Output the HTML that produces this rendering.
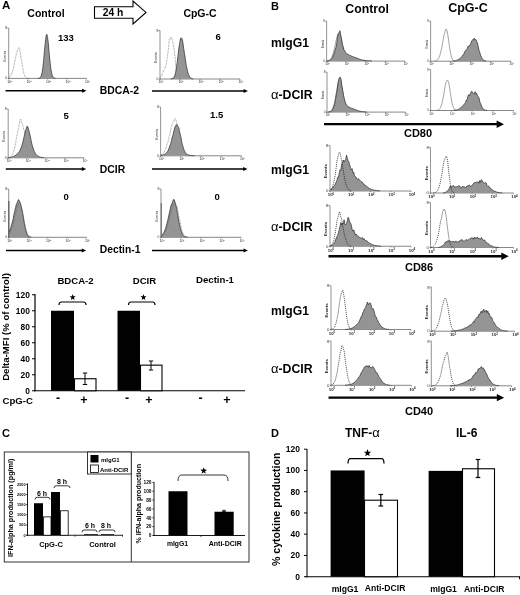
<!DOCTYPE html>
<html><head><meta charset="utf-8"><title>Figure</title>
<style>
html,body{margin:0;padding:0;background:#fff;}
body{width:520px;height:595px;overflow:hidden;font-family:"Liberation Sans",sans-serif;}
svg{display:block;font-family:"Liberation Sans",sans-serif;}
</style></head><body>
<svg width="520" height="595" viewBox="0 0 520 595">
<rect width="520" height="595" fill="#fff"/>
<g opacity="0.999">
<text x="2" y="9.4" font-size="11.5" font-weight="bold" text-anchor="start" fill="#000" >A</text>
<text x="46" y="16.5" font-size="10.5" font-weight="bold" text-anchor="middle" fill="#000" >Control</text>
<text x="200" y="16.5" font-size="10.5" font-weight="bold" text-anchor="middle" fill="#000" >CpG-C</text>
<path d="M94.5,6.7 L133,6.7 L133,1 L146,12.4 L133,24 L133,18.2 L94.5,18.2 Z" fill="#fff" stroke="#000" stroke-width="1.1"/>
<text x="113" y="16.2" font-size="10.3" font-weight="bold" text-anchor="middle" fill="#000" >24 h</text>
<line x1="8.7" y1="28" x2="8.7" y2="78.9" stroke="#666" stroke-width="0.7" />
<line x1="7.699999999999999" y1="78.4" x2="86.5" y2="78.4" stroke="#555" stroke-width="0.7" />
<line x1="8.7" y1="78.4" x2="8.7" y2="79.60000000000001" stroke="#555" stroke-width="0.6" />
<text x="9.7" y="82.828" font-size="3.4" font-weight="normal" text-anchor="middle" fill="#222" >10<tspan dy="-1.1" font-size="2.2">0</tspan></text>
<line x1="28.15" y1="78.4" x2="28.15" y2="79.60000000000001" stroke="#555" stroke-width="0.6" />
<text x="29.15" y="82.828" font-size="3.4" font-weight="normal" text-anchor="middle" fill="#222" >10<tspan dy="-1.1" font-size="2.2">1</tspan></text>
<line x1="47.599999999999994" y1="78.4" x2="47.599999999999994" y2="79.60000000000001" stroke="#555" stroke-width="0.6" />
<text x="48.599999999999994" y="82.828" font-size="3.4" font-weight="normal" text-anchor="middle" fill="#222" >10<tspan dy="-1.1" font-size="2.2">2</tspan></text>
<line x1="67.05" y1="78.4" x2="67.05" y2="79.60000000000001" stroke="#555" stroke-width="0.6" />
<text x="68.05" y="82.828" font-size="3.4" font-weight="normal" text-anchor="middle" fill="#222" >10<tspan dy="-1.1" font-size="2.2">3</tspan></text>
<line x1="86.5" y1="78.4" x2="86.5" y2="79.60000000000001" stroke="#555" stroke-width="0.6" />
<text x="87.5" y="82.828" font-size="3.4" font-weight="normal" text-anchor="middle" fill="#222" >10<tspan dy="-1.1" font-size="2.2">4</tspan></text>
<line x1="7.199999999999999" y1="28" x2="8.7" y2="28" stroke="#555" stroke-width="0.6" />
<text x="7.1" y="29.36" font-size="3.4" font-weight="normal" text-anchor="end" fill="#333" >8</text>
<text x="7.1" y="79.42" font-size="3.4" font-weight="normal" text-anchor="end" fill="#333" >0</text>
<text transform="translate(5.939999999999999,56.2) rotate(-90)" font-size="3.6" font-weight="normal" text-anchor="middle" fill="#222">Events</text>
<path d="M9.2,77.5 L10.0,76.8 L10.8,75.6 L11.6,74.2 L12.4,71.7 L13.2,68.9 L14.0,65.8 L14.8,61.1 L15.6,58.0 L16.4,53.3 L17.2,51.2 L18.0,49.2 L18.8,47.7 L19.6,48.1 L20.4,53.9 L21.2,58.8 L22.0,63.5 L22.8,68.2 L23.6,72.4 L24.4,75.1 L25.2,76.6 L26.0,77.6 L26.8,78.1 L27.6,78.3 L28.4,78.4" fill="none" stroke="#555" stroke-width="0.6" stroke-dasharray="0.8,0.7" stroke-linejoin="round"/>
<path d="M38.0,78.4 L38.0,78.4 L38.8,78.3 L39.6,78.0 L40.4,77.4 L41.2,75.9 L42.0,73.0 L42.8,68.1 L43.6,60.8 L44.4,51.4 L45.2,43.3 L46.0,36.3 L46.8,34.2 L47.6,37.6 L48.4,44.1 L49.2,53.3 L50.0,61.6 L50.8,68.3 L51.6,72.9 L52.4,75.8 L53.2,77.3 L54.0,78.0 L54.8,78.3 L55.6,78.4 L55.6,78.4 Z" fill="#949494"/>
<path d="M38.0,78.4 L38.8,78.3 L39.6,78.0 L40.4,77.4 L41.2,75.9 L42.0,73.0 L42.8,68.1 L43.6,60.8 L44.4,51.4 L45.2,43.3 L46.0,36.3 L46.8,34.2 L47.6,37.6 L48.4,44.1 L49.2,53.3 L50.0,61.6 L50.8,68.3 L51.6,72.9 L52.4,75.8 L53.2,77.3 L54.0,78.0 L54.8,78.3 L55.6,78.4" fill="none" stroke="#2a2a2a" stroke-width="0.7"  stroke-linejoin="round"/>
<text x="58" y="40.5" font-size="9.5" font-weight="bold" text-anchor="start" fill="#000" >133</text>
<line x1="160" y1="30.5" x2="160" y2="79.5" stroke="#666" stroke-width="0.7" />
<line x1="159" y1="79" x2="240" y2="79" stroke="#555" stroke-width="0.7" />
<line x1="160.0" y1="79" x2="160.0" y2="80.2" stroke="#555" stroke-width="0.6" />
<text x="161.0" y="83.428" font-size="3.4" font-weight="normal" text-anchor="middle" fill="#222" >10<tspan dy="-1.1" font-size="2.2">0</tspan></text>
<line x1="180.0" y1="79" x2="180.0" y2="80.2" stroke="#555" stroke-width="0.6" />
<text x="181.0" y="83.428" font-size="3.4" font-weight="normal" text-anchor="middle" fill="#222" >10<tspan dy="-1.1" font-size="2.2">1</tspan></text>
<line x1="200.0" y1="79" x2="200.0" y2="80.2" stroke="#555" stroke-width="0.6" />
<text x="201.0" y="83.428" font-size="3.4" font-weight="normal" text-anchor="middle" fill="#222" >10<tspan dy="-1.1" font-size="2.2">2</tspan></text>
<line x1="220.0" y1="79" x2="220.0" y2="80.2" stroke="#555" stroke-width="0.6" />
<text x="221.0" y="83.428" font-size="3.4" font-weight="normal" text-anchor="middle" fill="#222" >10<tspan dy="-1.1" font-size="2.2">3</tspan></text>
<line x1="240.0" y1="79" x2="240.0" y2="80.2" stroke="#555" stroke-width="0.6" />
<text x="241.0" y="83.428" font-size="3.4" font-weight="normal" text-anchor="middle" fill="#222" >10<tspan dy="-1.1" font-size="2.2">4</tspan></text>
<line x1="158.5" y1="30.5" x2="160" y2="30.5" stroke="#555" stroke-width="0.6" />
<text x="158.4" y="31.86" font-size="3.4" font-weight="normal" text-anchor="end" fill="#333" >8</text>
<text x="158.4" y="80.02" font-size="3.4" font-weight="normal" text-anchor="end" fill="#333" >0</text>
<text transform="translate(157.23999999999998,57.75) rotate(-90)" font-size="3.6" font-weight="normal" text-anchor="middle" fill="#222">Events</text>
<path d="M160.5,77.4 L161.3,76.3 L162.1,74.7 L162.9,72.5 L163.7,70.6 L164.5,69.2 L165.3,66.9 L166.1,64.6 L166.9,60.2 L167.7,54.4 L168.5,48.4 L169.3,39.1 L170.1,38.7 L170.9,37.1 L171.7,37.7 L172.5,42.1 L173.3,43.1 L174.1,49.3 L174.9,55.6 L175.7,65.0 L176.5,72.7 L177.3,76.7 L178.1,78.4 L178.9,78.9 L179.7,79.0" fill="none" stroke="#555" stroke-width="0.6" stroke-dasharray="0.8,0.7" stroke-linejoin="round"/>
<path d="M170.9,79.0 L170.9,78.9 L171.7,78.8 L172.5,78.6 L173.3,78.1 L174.1,77.0 L174.9,75.2 L175.7,72.2 L176.5,67.5 L177.3,61.4 L178.1,55.1 L178.9,47.7 L179.7,43.2 L180.5,38.2 L181.3,37.8 L182.1,38.7 L182.9,42.6 L183.7,48.5 L184.5,53.6 L185.3,58.7 L186.1,64.4 L186.9,68.3 L187.7,71.9 L188.5,74.4 L189.3,76.2 L190.1,77.3 L190.9,78.1 L191.7,78.5 L192.5,78.8 L193.3,78.9 L193.3,79.0 Z" fill="#949494"/>
<path d="M170.9,78.9 L171.7,78.8 L172.5,78.6 L173.3,78.1 L174.1,77.0 L174.9,75.2 L175.7,72.2 L176.5,67.5 L177.3,61.4 L178.1,55.1 L178.9,47.7 L179.7,43.2 L180.5,38.2 L181.3,37.8 L182.1,38.7 L182.9,42.6 L183.7,48.5 L184.5,53.6 L185.3,58.7 L186.1,64.4 L186.9,68.3 L187.7,71.9 L188.5,74.4 L189.3,76.2 L190.1,77.3 L190.9,78.1 L191.7,78.5 L192.5,78.8 L193.3,78.9" fill="none" stroke="#2a2a2a" stroke-width="0.7"  stroke-linejoin="round"/>
<text x="215.5" y="39.7" font-size="9.5" font-weight="bold" text-anchor="start" fill="#000" >6</text>
<line x1="5.5" y1="90.8" x2="83.1" y2="90.8" stroke="#000" stroke-width="1.5" />
<path d="M86.5,90.8 L82.1,88.8 L82.1,92.8 Z" fill="#000"/>
<line x1="152" y1="91" x2="244.6" y2="91" stroke="#000" stroke-width="1.5" />
<path d="M248,91 L243.6,89.0 L243.6,93.0 Z" fill="#000"/>
<text x="99.8" y="94.1" font-size="10.4" font-weight="bold" text-anchor="start" fill="#000" >BDCA-2</text>
<line x1="8.2" y1="109" x2="8.2" y2="158.3" stroke="#666" stroke-width="0.7" />
<line x1="7.199999999999999" y1="157.8" x2="84" y2="157.8" stroke="#555" stroke-width="0.7" />
<line x1="8.2" y1="157.8" x2="8.2" y2="159.0" stroke="#555" stroke-width="0.6" />
<text x="9.2" y="162.228" font-size="3.4" font-weight="normal" text-anchor="middle" fill="#222" >10<tspan dy="-1.1" font-size="2.2">0</tspan></text>
<line x1="27.15" y1="157.8" x2="27.15" y2="159.0" stroke="#555" stroke-width="0.6" />
<text x="28.15" y="162.228" font-size="3.4" font-weight="normal" text-anchor="middle" fill="#222" >10<tspan dy="-1.1" font-size="2.2">1</tspan></text>
<line x1="46.099999999999994" y1="157.8" x2="46.099999999999994" y2="159.0" stroke="#555" stroke-width="0.6" />
<text x="47.099999999999994" y="162.228" font-size="3.4" font-weight="normal" text-anchor="middle" fill="#222" >10<tspan dy="-1.1" font-size="2.2">2</tspan></text>
<line x1="65.05" y1="157.8" x2="65.05" y2="159.0" stroke="#555" stroke-width="0.6" />
<text x="66.05" y="162.228" font-size="3.4" font-weight="normal" text-anchor="middle" fill="#222" >10<tspan dy="-1.1" font-size="2.2">3</tspan></text>
<line x1="84.0" y1="157.8" x2="84.0" y2="159.0" stroke="#555" stroke-width="0.6" />
<text x="85.0" y="162.228" font-size="3.4" font-weight="normal" text-anchor="middle" fill="#222" >10<tspan dy="-1.1" font-size="2.2">4</tspan></text>
<line x1="6.699999999999999" y1="109" x2="8.2" y2="109" stroke="#555" stroke-width="0.6" />
<text x="6.6" y="110.36" font-size="3.4" font-weight="normal" text-anchor="end" fill="#333" >8</text>
<text x="6.6" y="158.82000000000002" font-size="3.4" font-weight="normal" text-anchor="end" fill="#333" >0</text>
<text transform="translate(5.439999999999999,136.4) rotate(-90)" font-size="3.6" font-weight="normal" text-anchor="middle" fill="#222">Events</text>
<path d="M8.7,157.6 L9.5,157.4 L10.3,157.0 L11.1,156.4 L11.9,155.3 L12.7,154.1 L13.5,152.0 L14.3,149.2 L15.1,145.3 L15.9,141.2 L16.7,136.4 L17.5,133.0 L18.3,128.3 L19.1,124.8 L19.9,120.4 L20.7,119.1 L21.5,122.5 L22.3,124.0 L23.1,126.4 L23.9,129.7 L24.7,132.9 L25.5,136.7 L26.3,141.3 L27.1,145.2 L27.9,147.8 L28.7,150.5 L29.5,152.5 L30.3,154.0 L31.1,155.4 L31.9,156.3 L32.7,156.8 L33.5,157.2 L34.3,157.5 L35.1,157.6 L35.9,157.7" fill="none" stroke="#555" stroke-width="0.6" stroke-dasharray="0.8,0.7" stroke-linejoin="round"/>
<path d="M8.7,157.8 L8.7,157.6 L9.5,157.5 L10.3,157.4 L11.1,157.2 L11.9,157.0 L12.7,156.7 L13.5,156.4 L14.3,156.0 L15.1,155.6 L15.9,155.0 L16.7,154.4 L17.5,153.6 L18.3,152.8 L19.1,151.8 L19.9,150.4 L20.7,148.8 L21.5,146.6 L22.3,144.2 L23.1,141.2 L23.9,137.5 L24.7,134.1 L25.5,130.5 L26.3,128.7 L27.1,126.1 L27.9,127.1 L28.7,129.9 L29.5,132.8 L30.3,136.4 L31.1,140.3 L31.9,144.2 L32.7,146.8 L33.5,149.3 L34.3,151.6 L35.1,153.1 L35.9,154.3 L36.7,155.2 L37.5,155.8 L38.3,156.3 L39.1,156.7 L39.9,157.0 L40.7,157.3 L41.5,157.4 L42.3,157.5 L43.1,157.6 L43.9,157.7 L43.9,157.8 Z" fill="#949494"/>
<path d="M8.7,157.6 L9.5,157.5 L10.3,157.4 L11.1,157.2 L11.9,157.0 L12.7,156.7 L13.5,156.4 L14.3,156.0 L15.1,155.6 L15.9,155.0 L16.7,154.4 L17.5,153.6 L18.3,152.8 L19.1,151.8 L19.9,150.4 L20.7,148.8 L21.5,146.6 L22.3,144.2 L23.1,141.2 L23.9,137.5 L24.7,134.1 L25.5,130.5 L26.3,128.7 L27.1,126.1 L27.9,127.1 L28.7,129.9 L29.5,132.8 L30.3,136.4 L31.1,140.3 L31.9,144.2 L32.7,146.8 L33.5,149.3 L34.3,151.6 L35.1,153.1 L35.9,154.3 L36.7,155.2 L37.5,155.8 L38.3,156.3 L39.1,156.7 L39.9,157.0 L40.7,157.3 L41.5,157.4 L42.3,157.5 L43.1,157.6 L43.9,157.7" fill="none" stroke="#2a2a2a" stroke-width="0.7"  stroke-linejoin="round"/>
<text x="63.5" y="118.5" font-size="9.5" font-weight="bold" text-anchor="start" fill="#000" >5</text>
<line x1="160.6" y1="107" x2="160.6" y2="156.3" stroke="#666" stroke-width="0.7" />
<line x1="159.6" y1="155.8" x2="241.5" y2="155.8" stroke="#555" stroke-width="0.7" />
<line x1="160.6" y1="155.8" x2="160.6" y2="157.0" stroke="#555" stroke-width="0.6" />
<text x="161.6" y="160.228" font-size="3.4" font-weight="normal" text-anchor="middle" fill="#222" >10<tspan dy="-1.1" font-size="2.2">0</tspan></text>
<line x1="180.825" y1="155.8" x2="180.825" y2="157.0" stroke="#555" stroke-width="0.6" />
<text x="181.825" y="160.228" font-size="3.4" font-weight="normal" text-anchor="middle" fill="#222" >10<tspan dy="-1.1" font-size="2.2">1</tspan></text>
<line x1="201.05" y1="155.8" x2="201.05" y2="157.0" stroke="#555" stroke-width="0.6" />
<text x="202.05" y="160.228" font-size="3.4" font-weight="normal" text-anchor="middle" fill="#222" >10<tspan dy="-1.1" font-size="2.2">2</tspan></text>
<line x1="221.275" y1="155.8" x2="221.275" y2="157.0" stroke="#555" stroke-width="0.6" />
<text x="222.275" y="160.228" font-size="3.4" font-weight="normal" text-anchor="middle" fill="#222" >10<tspan dy="-1.1" font-size="2.2">3</tspan></text>
<line x1="241.5" y1="155.8" x2="241.5" y2="157.0" stroke="#555" stroke-width="0.6" />
<text x="242.5" y="160.228" font-size="3.4" font-weight="normal" text-anchor="middle" fill="#222" >10<tspan dy="-1.1" font-size="2.2">4</tspan></text>
<line x1="159.1" y1="107" x2="160.6" y2="107" stroke="#555" stroke-width="0.6" />
<text x="159.0" y="108.36" font-size="3.4" font-weight="normal" text-anchor="end" fill="#333" >8</text>
<text x="159.0" y="156.82000000000002" font-size="3.4" font-weight="normal" text-anchor="end" fill="#333" >0</text>
<text transform="translate(157.83999999999997,134.4) rotate(-90)" font-size="3.6" font-weight="normal" text-anchor="middle" fill="#222">Events</text>
<path d="M161.1,154.9 L161.9,154.5 L162.7,153.9 L163.5,153.0 L164.3,152.0 L165.1,150.3 L165.9,148.1 L166.7,145.8 L167.5,143.2 L168.3,140.7 L169.1,137.3 L169.9,134.3 L170.7,129.4 L171.5,126.8 L172.3,123.1 L173.1,122.4 L173.9,121.4 L174.7,118.7 L175.5,118.6 L176.3,121.1 L177.1,124.4 L177.9,128.3 L178.7,132.9 L179.5,138.2 L180.3,141.8 L181.1,145.5 L181.9,148.7 L182.7,150.9 L183.5,152.5 L184.3,153.7 L185.1,154.5 L185.9,155.0 L186.7,155.4 L187.5,155.6 L188.3,155.7 L189.1,155.7" fill="none" stroke="#555" stroke-width="0.6" stroke-dasharray="0.8,0.7" stroke-linejoin="round"/>
<path d="M161.1,155.8 L161.1,155.3 L161.9,155.1 L162.7,155.0 L163.5,154.7 L164.3,154.4 L165.1,154.0 L165.9,153.4 L166.7,152.6 L167.5,151.6 L168.3,150.0 L169.1,148.1 L169.9,145.8 L170.7,143.5 L171.5,140.4 L172.3,137.0 L173.1,134.7 L173.9,130.9 L174.7,127.8 L175.5,125.9 L176.3,124.7 L177.1,124.9 L177.9,126.3 L178.7,127.4 L179.5,131.3 L180.3,134.4 L181.1,138.3 L181.9,142.6 L182.7,145.8 L183.5,148.3 L184.3,150.5 L185.1,152.2 L185.9,153.3 L186.7,154.1 L187.5,154.5 L188.3,154.9 L189.1,155.1 L189.9,155.3 L190.7,155.4 L191.5,155.5 L192.3,155.6 L193.1,155.6 L193.9,155.7 L194.7,155.7 L194.7,155.8 Z" fill="#949494"/>
<path d="M161.1,155.3 L161.9,155.1 L162.7,155.0 L163.5,154.7 L164.3,154.4 L165.1,154.0 L165.9,153.4 L166.7,152.6 L167.5,151.6 L168.3,150.0 L169.1,148.1 L169.9,145.8 L170.7,143.5 L171.5,140.4 L172.3,137.0 L173.1,134.7 L173.9,130.9 L174.7,127.8 L175.5,125.9 L176.3,124.7 L177.1,124.9 L177.9,126.3 L178.7,127.4 L179.5,131.3 L180.3,134.4 L181.1,138.3 L181.9,142.6 L182.7,145.8 L183.5,148.3 L184.3,150.5 L185.1,152.2 L185.9,153.3 L186.7,154.1 L187.5,154.5 L188.3,154.9 L189.1,155.1 L189.9,155.3 L190.7,155.4 L191.5,155.5 L192.3,155.6 L193.1,155.6 L193.9,155.7 L194.7,155.7" fill="none" stroke="#2a2a2a" stroke-width="0.7"  stroke-linejoin="round"/>
<text x="210" y="118" font-size="9.5" font-weight="bold" text-anchor="start" fill="#000" >1.5</text>
<line x1="5.8" y1="169" x2="82.8" y2="169" stroke="#000" stroke-width="1.5" />
<path d="M86.2,169 L81.8,167.0 L81.8,171.0 Z" fill="#000"/>
<line x1="152" y1="168.9" x2="244.1" y2="168.9" stroke="#000" stroke-width="1.5" />
<path d="M247.5,168.9 L243.1,166.9 L243.1,170.9 Z" fill="#000"/>
<text x="99.8" y="172.6" font-size="10.4" font-weight="bold" text-anchor="start" fill="#000" >DCIR</text>
<line x1="8.7" y1="189" x2="8.7" y2="237.8" stroke="#666" stroke-width="0.7" />
<line x1="7.699999999999999" y1="237.3" x2="86.5" y2="237.3" stroke="#555" stroke-width="0.7" />
<line x1="8.7" y1="237.3" x2="8.7" y2="238.5" stroke="#555" stroke-width="0.6" />
<text x="9.7" y="241.728" font-size="3.4" font-weight="normal" text-anchor="middle" fill="#222" >10<tspan dy="-1.1" font-size="2.2">0</tspan></text>
<line x1="28.15" y1="237.3" x2="28.15" y2="238.5" stroke="#555" stroke-width="0.6" />
<text x="29.15" y="241.728" font-size="3.4" font-weight="normal" text-anchor="middle" fill="#222" >10<tspan dy="-1.1" font-size="2.2">1</tspan></text>
<line x1="47.599999999999994" y1="237.3" x2="47.599999999999994" y2="238.5" stroke="#555" stroke-width="0.6" />
<text x="48.599999999999994" y="241.728" font-size="3.4" font-weight="normal" text-anchor="middle" fill="#222" >10<tspan dy="-1.1" font-size="2.2">2</tspan></text>
<line x1="67.05" y1="237.3" x2="67.05" y2="238.5" stroke="#555" stroke-width="0.6" />
<text x="68.05" y="241.728" font-size="3.4" font-weight="normal" text-anchor="middle" fill="#222" >10<tspan dy="-1.1" font-size="2.2">3</tspan></text>
<line x1="86.5" y1="237.3" x2="86.5" y2="238.5" stroke="#555" stroke-width="0.6" />
<text x="87.5" y="241.728" font-size="3.4" font-weight="normal" text-anchor="middle" fill="#222" >10<tspan dy="-1.1" font-size="2.2">4</tspan></text>
<line x1="7.199999999999999" y1="189" x2="8.7" y2="189" stroke="#555" stroke-width="0.6" />
<text x="7.1" y="190.36" font-size="3.4" font-weight="normal" text-anchor="end" fill="#333" >8</text>
<text x="7.1" y="238.32000000000002" font-size="3.4" font-weight="normal" text-anchor="end" fill="#333" >0</text>
<text transform="translate(5.939999999999999,216.15) rotate(-90)" font-size="3.6" font-weight="normal" text-anchor="middle" fill="#222">Events</text>
<path d="M9.2,237.3 L9.2,231.9 L10.0,230.0 L10.8,227.8 L11.6,224.8 L12.4,222.0 L13.2,218.7 L14.0,213.9 L14.8,210.7 L15.6,207.6 L16.4,204.0 L17.2,202.8 L18.0,200.3 L18.8,199.6 L19.6,201.5 L20.4,203.4 L21.2,206.3 L22.0,210.0 L22.8,213.7 L23.6,218.9 L24.4,223.4 L25.2,227.7 L26.0,230.8 L26.8,233.6 L27.6,235.3 L28.4,236.3 L29.2,236.9 L30.0,237.1 L30.8,237.2 L30.8,237.3 Z" fill="#949494"/>
<path d="M9.2,231.9 L10.0,230.0 L10.8,227.8 L11.6,224.8 L12.4,222.0 L13.2,218.7 L14.0,213.9 L14.8,210.7 L15.6,207.6 L16.4,204.0 L17.2,202.8 L18.0,200.3 L18.8,199.6 L19.6,201.5 L20.4,203.4 L21.2,206.3 L22.0,210.0 L22.8,213.7 L23.6,218.9 L24.4,223.4 L25.2,227.7 L26.0,230.8 L26.8,233.6 L27.6,235.3 L28.4,236.3 L29.2,236.9 L30.0,237.1 L30.8,237.2" fill="none" stroke="#2a2a2a" stroke-width="0.7"  stroke-linejoin="round"/>
<path d="M9.2,233.8 L10.0,232.5 L10.8,230.4 L11.6,228.5 L12.4,225.9 L13.2,222.9 L14.0,220.5 L14.8,216.4 L15.6,213.6 L16.4,211.1 L17.2,206.1 L18.0,206.0 L18.8,203.7 L19.6,202.5 L20.4,204.1 L21.2,207.1 L22.0,209.9 L22.8,213.9 L23.6,217.8 L24.4,223.1 L25.2,226.2 L26.0,229.6 L26.8,232.0 L27.6,233.7 L28.4,235.1 L29.2,236.0 L30.0,236.5 L30.8,236.9 L31.6,237.1 L32.4,237.2" fill="none" stroke="#555" stroke-width="0.6" stroke-dasharray="0.8,0.7" stroke-linejoin="round"/>
<line x1="8.9" y1="201" x2="8.9" y2="237.3" stroke="#444" stroke-width="1.0" />
<text x="63.5" y="200" font-size="9.5" font-weight="bold" text-anchor="start" fill="#000" >0</text>
<line x1="161" y1="189" x2="161" y2="237.8" stroke="#666" stroke-width="0.7" />
<line x1="160" y1="237.3" x2="241" y2="237.3" stroke="#555" stroke-width="0.7" />
<line x1="161.0" y1="237.3" x2="161.0" y2="238.5" stroke="#555" stroke-width="0.6" />
<text x="162.0" y="241.728" font-size="3.4" font-weight="normal" text-anchor="middle" fill="#222" >10<tspan dy="-1.1" font-size="2.2">0</tspan></text>
<line x1="181.0" y1="237.3" x2="181.0" y2="238.5" stroke="#555" stroke-width="0.6" />
<text x="182.0" y="241.728" font-size="3.4" font-weight="normal" text-anchor="middle" fill="#222" >10<tspan dy="-1.1" font-size="2.2">1</tspan></text>
<line x1="201.0" y1="237.3" x2="201.0" y2="238.5" stroke="#555" stroke-width="0.6" />
<text x="202.0" y="241.728" font-size="3.4" font-weight="normal" text-anchor="middle" fill="#222" >10<tspan dy="-1.1" font-size="2.2">2</tspan></text>
<line x1="221.0" y1="237.3" x2="221.0" y2="238.5" stroke="#555" stroke-width="0.6" />
<text x="222.0" y="241.728" font-size="3.4" font-weight="normal" text-anchor="middle" fill="#222" >10<tspan dy="-1.1" font-size="2.2">3</tspan></text>
<line x1="241.0" y1="237.3" x2="241.0" y2="238.5" stroke="#555" stroke-width="0.6" />
<text x="242.0" y="241.728" font-size="3.4" font-weight="normal" text-anchor="middle" fill="#222" >10<tspan dy="-1.1" font-size="2.2">4</tspan></text>
<line x1="159.5" y1="189" x2="161" y2="189" stroke="#555" stroke-width="0.6" />
<text x="159.4" y="190.36" font-size="3.4" font-weight="normal" text-anchor="end" fill="#333" >8</text>
<text x="159.4" y="238.32000000000002" font-size="3.4" font-weight="normal" text-anchor="end" fill="#333" >0</text>
<text transform="translate(158.23999999999998,216.15) rotate(-90)" font-size="3.6" font-weight="normal" text-anchor="middle" fill="#222">Events</text>
<path d="M161.5,237.3 L161.5,235.6 L162.3,234.9 L163.1,233.8 L163.9,232.5 L164.7,230.7 L165.5,228.5 L166.3,226.0 L167.1,223.0 L167.9,219.7 L168.7,215.6 L169.5,212.3 L170.3,208.5 L171.1,205.2 L171.9,203.9 L172.7,201.4 L173.5,199.5 L174.3,199.7 L175.1,202.6 L175.9,205.4 L176.7,208.7 L177.5,213.7 L178.3,218.1 L179.1,222.7 L179.9,226.1 L180.7,229.3 L181.5,231.9 L182.3,234.0 L183.1,235.2 L183.9,236.0 L184.7,236.6 L185.5,236.9 L186.3,237.1 L187.1,237.2 L187.1,237.3 Z" fill="#949494"/>
<path d="M161.5,235.6 L162.3,234.9 L163.1,233.8 L163.9,232.5 L164.7,230.7 L165.5,228.5 L166.3,226.0 L167.1,223.0 L167.9,219.7 L168.7,215.6 L169.5,212.3 L170.3,208.5 L171.1,205.2 L171.9,203.9 L172.7,201.4 L173.5,199.5 L174.3,199.7 L175.1,202.6 L175.9,205.4 L176.7,208.7 L177.5,213.7 L178.3,218.1 L179.1,222.7 L179.9,226.1 L180.7,229.3 L181.5,231.9 L182.3,234.0 L183.1,235.2 L183.9,236.0 L184.7,236.6 L185.5,236.9 L186.3,237.1 L187.1,237.2" fill="none" stroke="#2a2a2a" stroke-width="0.7"  stroke-linejoin="round"/>
<path d="M161.5,236.4 L162.3,235.8 L163.1,235.3 L163.9,234.2 L164.7,233.1 L165.5,231.6 L166.3,229.2 L167.1,226.9 L167.9,225.0 L168.7,221.6 L169.5,218.2 L170.3,215.2 L171.1,212.3 L171.9,208.9 L172.7,205.1 L173.5,205.4 L174.3,202.5 L175.1,202.5 L175.9,204.9 L176.7,206.0 L177.5,208.4 L178.3,212.8 L179.1,218.0 L179.9,220.6 L180.7,224.9 L181.5,228.2 L182.3,231.5 L183.1,233.3 L183.9,234.8 L184.7,235.7 L185.5,236.4 L186.3,236.8 L187.1,237.0 L187.9,237.2 L188.7,237.2" fill="none" stroke="#555" stroke-width="0.6" stroke-dasharray="0.8,0.7" stroke-linejoin="round"/>
<line x1="161.2" y1="203" x2="161.2" y2="237.3" stroke="#555" stroke-width="0.9" />
<text x="214.5" y="200" font-size="9.5" font-weight="bold" text-anchor="start" fill="#000" >0</text>
<line x1="6" y1="250.4" x2="82.8" y2="250.4" stroke="#000" stroke-width="1.5" />
<path d="M86.2,250.4 L81.8,248.4 L81.8,252.4 Z" fill="#000"/>
<line x1="152" y1="250.5" x2="244.6" y2="250.5" stroke="#000" stroke-width="1.5" />
<path d="M248,250.5 L243.6,248.5 L243.6,252.5 Z" fill="#000"/>
<text x="99.8" y="253.4" font-size="10.3" font-weight="bold" text-anchor="start" fill="#000" >Dectin-1</text>
<line x1="35" y1="294" x2="35" y2="391.25" stroke="#000" stroke-width="1.2" />
<line x1="34" y1="390.75" x2="245" y2="390.75" stroke="#000" stroke-width="1.2" />
<line x1="32" y1="390.75" x2="35" y2="390.75" stroke="#000" stroke-width="1" />
<text x="29.8" y="393.75" font-size="8.4" font-weight="bold" text-anchor="end" fill="#000" >0</text>
<line x1="32" y1="374.75" x2="35" y2="374.75" stroke="#000" stroke-width="1" />
<text x="29.8" y="377.75" font-size="8.4" font-weight="bold" text-anchor="end" fill="#000" >20</text>
<line x1="32" y1="358.75" x2="35" y2="358.75" stroke="#000" stroke-width="1" />
<text x="29.8" y="361.75" font-size="8.4" font-weight="bold" text-anchor="end" fill="#000" >40</text>
<line x1="32" y1="342.75" x2="35" y2="342.75" stroke="#000" stroke-width="1" />
<text x="29.8" y="345.75" font-size="8.4" font-weight="bold" text-anchor="end" fill="#000" >60</text>
<line x1="32" y1="326.75" x2="35" y2="326.75" stroke="#000" stroke-width="1" />
<text x="29.8" y="329.75" font-size="8.4" font-weight="bold" text-anchor="end" fill="#000" >80</text>
<line x1="32" y1="310.75" x2="35" y2="310.75" stroke="#000" stroke-width="1" />
<text x="29.8" y="313.75" font-size="8.4" font-weight="bold" text-anchor="end" fill="#000" >100</text>
<line x1="32" y1="294.75" x2="35" y2="294.75" stroke="#000" stroke-width="1" />
<text x="29.8" y="297.75" font-size="8.4" font-weight="bold" text-anchor="end" fill="#000" >120</text>
<text transform="translate(8.5,327) rotate(-90)" font-size="9.6" font-weight="bold" text-anchor="middle" fill="#000">Delta-MFI (% of control)</text>
<text x="75.5" y="283.5" font-size="9.6" font-weight="bold" text-anchor="middle" fill="#000" >BDCA-2</text>
<text x="144.5" y="283.5" font-size="9.6" font-weight="bold" text-anchor="middle" fill="#000" >DCIR</text>
<text x="215" y="283.3" font-size="9.6" font-weight="bold" text-anchor="middle" fill="#000" >Dectin-1</text>
<rect x="51" y="310.75" width="23" height="80.0" fill="#000" stroke="none" stroke-width="1"/>
<rect x="74.5" y="378.75" width="21.5" height="12.0" fill="#fff" stroke="#000" stroke-width="1.1"/>
<line x1="85" y1="373" x2="85" y2="384.5" stroke="#000" stroke-width="1" />
<line x1="82.8" y1="373" x2="87.2" y2="373" stroke="#000" stroke-width="1" />
<line x1="82.8" y1="384.5" x2="87.2" y2="384.5" stroke="#000" stroke-width="1" />
<rect x="117.5" y="310.75" width="22.5" height="80.0" fill="#000" stroke="none" stroke-width="1"/>
<rect x="140.5" y="365.15" width="21.5" height="25.6" fill="#fff" stroke="#000" stroke-width="1.1"/>
<line x1="151" y1="361" x2="151" y2="370" stroke="#000" stroke-width="1" />
<line x1="148.8" y1="361" x2="153.2" y2="361" stroke="#000" stroke-width="1" />
<line x1="148.8" y1="370" x2="153.2" y2="370" stroke="#000" stroke-width="1" />
<path d="M59,305 Q59,302 61.5,302 L83.5,302 Q86,302 86,305" fill="none" stroke="#000" stroke-width="1.2"/>
<polygon points="72.70,294.10 73.49,296.21 75.74,296.31 73.98,297.72 74.58,299.89 72.70,298.64 70.82,299.89 71.42,297.72 69.66,296.31 71.91,296.21" fill="#000"/>
<path d="M128.5,305 Q128.5,302 131.0,302 L152.5,302 Q155,302 155,305" fill="none" stroke="#000" stroke-width="1.2"/>
<polygon points="143.50,294.10 144.29,296.21 146.54,296.31 144.78,297.72 145.38,299.89 143.50,298.64 141.62,299.89 142.22,297.72 140.46,296.31 142.71,296.21" fill="#000"/>
<text x="2.5" y="404.3" font-size="9.6" font-weight="bold" text-anchor="start" fill="#000" >CpG-C</text>
<text x="58" y="402" font-size="12.5" font-weight="bold" text-anchor="middle" fill="#000" >-</text>
<text x="84" y="404" font-size="12.5" font-weight="bold" text-anchor="middle" fill="#000" >+</text>
<text x="127" y="402" font-size="12.5" font-weight="bold" text-anchor="middle" fill="#000" >-</text>
<text x="149" y="404" font-size="12.5" font-weight="bold" text-anchor="middle" fill="#000" >+</text>
<text x="200.5" y="402" font-size="12.5" font-weight="bold" text-anchor="middle" fill="#000" >-</text>
<text x="227" y="404" font-size="12.5" font-weight="bold" text-anchor="middle" fill="#000" >+</text>
<text x="2" y="437" font-size="11" font-weight="bold" text-anchor="start" fill="#000" >C</text>
<rect x="4.3" y="452" width="244.7" height="110" fill="none" stroke="#333" stroke-width="1"/>
<line x1="131.3" y1="452" x2="131.3" y2="562" stroke="#333" stroke-width="1" />
<rect x="87.5" y="452" width="43.8" height="22" fill="#fff" stroke="#333" stroke-width="1"/>
<rect x="90.5" y="455" width="8" height="7.5" fill="#000" stroke="none" stroke-width="1"/>
<rect x="90.5" y="465" width="8" height="7.5" fill="#fff" stroke="#000" stroke-width="0.8"/>
<text x="101" y="461.5" font-size="6" font-weight="bold" text-anchor="start" fill="#000" >mIgG1</text>
<text x="100" y="471.5" font-size="6" font-weight="bold" text-anchor="start" fill="#000" >Anti-DCIR</text>
<line x1="27.5" y1="483.5" x2="27.5" y2="535.75" stroke="#000" stroke-width="0.9" />
<line x1="26.5" y1="535.25" x2="123" y2="535.25" stroke="#000" stroke-width="0.9" />
<line x1="26" y1="535.25" x2="27.5" y2="535.25" stroke="#000" stroke-width="0.7" />
<text x="25.5" y="536.65" font-size="3.8" font-weight="bold" text-anchor="end" fill="#000" >0</text>
<line x1="26" y1="525.05" x2="27.5" y2="525.05" stroke="#000" stroke-width="0.7" />
<text x="25.5" y="526.4499999999999" font-size="3.8" font-weight="bold" text-anchor="end" fill="#000" >500</text>
<line x1="26" y1="514.85" x2="27.5" y2="514.85" stroke="#000" stroke-width="0.7" />
<text x="25.5" y="516.25" font-size="3.8" font-weight="bold" text-anchor="end" fill="#000" >1000</text>
<line x1="26" y1="504.65" x2="27.5" y2="504.65" stroke="#000" stroke-width="0.7" />
<text x="25.5" y="506.04999999999995" font-size="3.8" font-weight="bold" text-anchor="end" fill="#000" >1500</text>
<line x1="26" y1="494.45" x2="27.5" y2="494.45" stroke="#000" stroke-width="0.7" />
<text x="25.5" y="495.84999999999997" font-size="3.8" font-weight="bold" text-anchor="end" fill="#000" >2000</text>
<line x1="26" y1="484.25" x2="27.5" y2="484.25" stroke="#000" stroke-width="0.7" />
<text x="25.5" y="485.65" font-size="3.8" font-weight="bold" text-anchor="end" fill="#000" >2500</text>
<line x1="75" y1="535.25" x2="75" y2="536.75" stroke="#000" stroke-width="0.7" />
<line x1="122.5" y1="535.25" x2="122.5" y2="536.75" stroke="#000" stroke-width="0.7" />
<rect x="34" y="503.222" width="9" height="32.028000000000006" fill="#000" stroke="none" stroke-width="1"/>
<rect x="43.4" y="516.89" width="7.6" height="18.360000000000003" fill="#fff" stroke="#000" stroke-width="0.8"/>
<rect x="51" y="492.002" width="9" height="43.248000000000005" fill="#000" stroke="none" stroke-width="1"/>
<rect x="60.4" y="510.77" width="7.8" height="24.48" fill="#fff" stroke="#000" stroke-width="0.8"/>
<line x1="84" y1="534.55" x2="98" y2="534.55" stroke="#000" stroke-width="0.8" />
<line x1="101" y1="534.55" x2="114" y2="534.55" stroke="#000" stroke-width="0.8" />
<text x="42" y="495.5" font-size="7" font-weight="bold" text-anchor="middle" fill="#000" >6 h</text>
<path d="M35,499.5 Q35,497.3 37.19999999999999,497.3 L47.80000000000001,497.3 Q50,497.3 50,499.5" fill="none" stroke="#000" stroke-width="0.8"/>
<text x="62" y="483.5" font-size="7" font-weight="bold" text-anchor="middle" fill="#000" >8 h</text>
<path d="M54,488 Q54,485.8 56.19999999999999,485.8 L67.80000000000001,485.8 Q70,485.8 70,488" fill="none" stroke="#000" stroke-width="0.8"/>
<text x="90" y="527.7" font-size="7" font-weight="bold" text-anchor="middle" fill="#000" >6 h</text>
<path d="M82,532.2 Q82,530 84.20000000000005,530 L94.79999999999995,530 Q97,530 97,532.2" fill="none" stroke="#000" stroke-width="0.8"/>
<text x="106" y="527.7" font-size="7" font-weight="bold" text-anchor="middle" fill="#000" >8 h</text>
<path d="M99,532.2 Q99,530 101.20000000000005,530 L112.79999999999995,530 Q115,530 115,532.2" fill="none" stroke="#000" stroke-width="0.8"/>
<text x="51" y="547" font-size="7.5" font-weight="bold" text-anchor="middle" fill="#000" >CpG-C</text>
<text x="102.5" y="547" font-size="7.5" font-weight="bold" text-anchor="middle" fill="#000" >Control</text>
<text transform="translate(13.4,507.8) rotate(-90)" font-size="7.2" font-weight="bold" text-anchor="middle" fill="#000">IFN-alpha production (pg/ml)</text>
<line x1="154" y1="482" x2="154" y2="536.0" stroke="#000" stroke-width="0.9" />
<line x1="153" y1="535.5" x2="245" y2="535.5" stroke="#000" stroke-width="0.9" />
<line x1="201" y1="535.5" x2="201" y2="537.0" stroke="#000" stroke-width="0.7" />
<line x1="152.3" y1="535.5" x2="154" y2="535.5" stroke="#000" stroke-width="0.7" />
<text x="151.5" y="537.3" font-size="4.8" font-weight="bold" text-anchor="end" fill="#000" >0</text>
<line x1="152.3" y1="526.65" x2="154" y2="526.65" stroke="#000" stroke-width="0.7" />
<text x="151.5" y="528.4499999999999" font-size="4.8" font-weight="bold" text-anchor="end" fill="#000" >20</text>
<line x1="152.3" y1="517.8" x2="154" y2="517.8" stroke="#000" stroke-width="0.7" />
<text x="151.5" y="519.5999999999999" font-size="4.8" font-weight="bold" text-anchor="end" fill="#000" >40</text>
<line x1="152.3" y1="508.95" x2="154" y2="508.95" stroke="#000" stroke-width="0.7" />
<text x="151.5" y="510.75" font-size="4.8" font-weight="bold" text-anchor="end" fill="#000" >60</text>
<line x1="152.3" y1="500.1" x2="154" y2="500.1" stroke="#000" stroke-width="0.7" />
<text x="151.5" y="501.90000000000003" font-size="4.8" font-weight="bold" text-anchor="end" fill="#000" >80</text>
<line x1="152.3" y1="491.25" x2="154" y2="491.25" stroke="#000" stroke-width="0.7" />
<text x="151.5" y="493.05" font-size="4.8" font-weight="bold" text-anchor="end" fill="#000" >100</text>
<line x1="152.3" y1="482.4" x2="154" y2="482.4" stroke="#000" stroke-width="0.7" />
<text x="151.5" y="484.2" font-size="4.8" font-weight="bold" text-anchor="end" fill="#000" >120</text>
<rect x="168.5" y="491.25" width="19" height="44.25" fill="#000" stroke="none" stroke-width="1"/>
<rect x="214.5" y="511.73775" width="19.2" height="23.76225" fill="#000" stroke="none" stroke-width="1"/>
<line x1="224" y1="510.3" x2="224" y2="511.5" stroke="#000" stroke-width="0.8" />
<line x1="222.2" y1="510.3" x2="225.8" y2="510.3" stroke="#000" stroke-width="0.8" />
<line x1="222.2" y1="511.5" x2="225.8" y2="511.5" stroke="#000" stroke-width="0.8" />
<path d="M178,481 Q178,475 182,475 L224,475 Q228,475 228,481" fill="none" stroke="#000" stroke-width="0.8"/>
<polygon points="203.70,467.30 204.56,469.61 207.03,469.72 205.10,471.25 205.76,473.63 203.70,472.27 201.64,473.63 202.30,471.25 200.37,469.72 202.84,469.61" fill="#000"/>
<text x="177.5" y="546" font-size="6.8" font-weight="bold" text-anchor="middle" fill="#000" >mIgG1</text>
<text x="225.3" y="546" font-size="7" font-weight="bold" text-anchor="middle" fill="#000" >Anti-DCIR</text>
<text transform="translate(140.5,503.8) rotate(-90)" font-size="7.1" font-weight="bold" text-anchor="middle" fill="#000">% IFN-alpha production</text>
<text x="271" y="9.5" font-size="11" font-weight="bold" text-anchor="start" fill="#000" >B</text>
<text x="367.2" y="12.7" font-size="12.3" font-weight="bold" text-anchor="middle" fill="#000" >Control</text>
<text x="468" y="11.8" font-size="12.5" font-weight="bold" text-anchor="middle" fill="#000" >CpG-C</text>
<text x="271" y="46.7" font-size="12.2" font-weight="bold" text-anchor="start" fill="#000" >mIgG1</text>
<line x1="326.6" y1="21" x2="326.6" y2="61.6" stroke="#666" stroke-width="0.7" />
<line x1="325.6" y1="61.1" x2="405" y2="61.1" stroke="#555" stroke-width="0.7" />
<line x1="326.6" y1="61.1" x2="326.6" y2="62.300000000000004" stroke="#555" stroke-width="0.6" />
<text x="327.6" y="65.16" font-size="3.0" font-weight="normal" text-anchor="middle" fill="#222" >10<tspan dy="-1.0" font-size="2.0">0</tspan></text>
<line x1="346.20000000000005" y1="61.1" x2="346.20000000000005" y2="62.300000000000004" stroke="#555" stroke-width="0.6" />
<text x="347.20000000000005" y="65.16" font-size="3.0" font-weight="normal" text-anchor="middle" fill="#222" >10<tspan dy="-1.0" font-size="2.0">1</tspan></text>
<line x1="365.8" y1="61.1" x2="365.8" y2="62.300000000000004" stroke="#555" stroke-width="0.6" />
<text x="366.8" y="65.16" font-size="3.0" font-weight="normal" text-anchor="middle" fill="#222" >10<tspan dy="-1.0" font-size="2.0">2</tspan></text>
<line x1="385.4" y1="61.1" x2="385.4" y2="62.300000000000004" stroke="#555" stroke-width="0.6" />
<text x="386.4" y="65.16" font-size="3.0" font-weight="normal" text-anchor="middle" fill="#222" >10<tspan dy="-1.0" font-size="2.0">3</tspan></text>
<line x1="405.0" y1="61.1" x2="405.0" y2="62.300000000000004" stroke="#555" stroke-width="0.6" />
<text x="406.0" y="65.16" font-size="3.0" font-weight="normal" text-anchor="middle" fill="#222" >10<tspan dy="-1.0" font-size="2.0">4</tspan></text>
<line x1="325.1" y1="21" x2="326.6" y2="21" stroke="#555" stroke-width="0.6" />
<text x="325.0" y="22.2" font-size="3.0" font-weight="normal" text-anchor="end" fill="#333" >8</text>
<text x="325.0" y="62.0" font-size="3.0" font-weight="normal" text-anchor="end" fill="#333" >0</text>
<text transform="translate(323.9200000000001,44.05) rotate(-90)" font-size="2.8" font-weight="normal" text-anchor="middle" fill="#222">Events</text>
<path d="M327.1,61.0 L327.9,60.9 L328.7,60.6 L329.5,60.2 L330.3,59.6 L331.1,58.5 L331.9,57.0 L332.7,54.9 L333.5,52.2 L334.3,48.9 L335.1,45.3 L335.9,41.4 L336.7,37.9 L337.5,35.0 L338.3,33.1 L339.1,32.6 L339.9,33.6 L340.7,36.1 L341.5,39.7 L342.3,43.8 L343.1,47.9 L343.9,51.6 L344.7,54.7 L345.5,57.0 L346.3,58.6 L347.1,59.7 L347.9,60.3 L348.7,60.7 L349.5,60.9 L350.3,61.0" fill="none" stroke="#666" stroke-width="0.6"  stroke-linejoin="round"/>
<path d="M327.1,61.1 L327.1,61.0 L327.9,60.9 L328.7,60.7 L329.5,60.4 L330.3,59.8 L331.1,59.1 L331.9,58.3 L332.7,57.1 L333.5,54.8 L334.3,52.9 L335.1,49.9 L335.9,47.6 L336.7,43.6 L337.5,37.2 L338.3,34.0 L339.1,33.5 L339.9,30.7 L340.7,35.1 L341.5,38.9 L342.3,44.8 L343.1,46.3 L343.9,50.0 L344.7,50.5 L345.5,52.3 L346.3,53.4 L347.1,53.9 L347.9,54.0 L348.7,55.0 L349.5,55.4 L350.3,55.4 L351.1,55.9 L351.9,56.3 L352.7,56.5 L353.5,56.9 L354.3,57.2 L355.1,57.4 L355.9,57.8 L356.7,57.9 L357.5,58.4 L358.3,58.6 L359.1,59.0 L359.9,59.2 L360.7,59.6 L361.5,59.7 L362.3,60.0 L363.1,60.0 L363.9,60.2 L364.7,60.4 L365.5,60.5 L366.3,60.6 L367.1,60.7 L367.9,60.8 L368.7,60.8 L369.5,60.9 L370.3,60.9 L371.1,61.0 L371.9,61.0 L371.9,61.1 Z" fill="#949494"/>
<path d="M327.1,61.0 L327.9,60.9 L328.7,60.7 L329.5,60.4 L330.3,59.8 L331.1,59.1 L331.9,58.3 L332.7,57.1 L333.5,54.8 L334.3,52.9 L335.1,49.9 L335.9,47.6 L336.7,43.6 L337.5,37.2 L338.3,34.0 L339.1,33.5 L339.9,30.7 L340.7,35.1 L341.5,38.9 L342.3,44.8 L343.1,46.3 L343.9,50.0 L344.7,50.5 L345.5,52.3 L346.3,53.4 L347.1,53.9 L347.9,54.0 L348.7,55.0 L349.5,55.4 L350.3,55.4 L351.1,55.9 L351.9,56.3 L352.7,56.5 L353.5,56.9 L354.3,57.2 L355.1,57.4 L355.9,57.8 L356.7,57.9 L357.5,58.4 L358.3,58.6 L359.1,59.0 L359.9,59.2 L360.7,59.6 L361.5,59.7 L362.3,60.0 L363.1,60.0 L363.9,60.2 L364.7,60.4 L365.5,60.5 L366.3,60.6 L367.1,60.7 L367.9,60.8 L368.7,60.8 L369.5,60.9 L370.3,60.9 L371.1,61.0 L371.9,61.0" fill="none" stroke="#2a2a2a" stroke-width="0.7"  stroke-linejoin="round"/>
<line x1="430.6" y1="21" x2="430.6" y2="61.7" stroke="#666" stroke-width="0.7" />
<line x1="429.6" y1="61.2" x2="510.8" y2="61.2" stroke="#555" stroke-width="0.7" />
<line x1="430.6" y1="61.2" x2="430.6" y2="62.400000000000006" stroke="#555" stroke-width="0.6" />
<text x="431.6" y="65.26" font-size="3.0" font-weight="normal" text-anchor="middle" fill="#222" >10<tspan dy="-1.0" font-size="2.0">0</tspan></text>
<line x1="450.65000000000003" y1="61.2" x2="450.65000000000003" y2="62.400000000000006" stroke="#555" stroke-width="0.6" />
<text x="451.65000000000003" y="65.26" font-size="3.0" font-weight="normal" text-anchor="middle" fill="#222" >10<tspan dy="-1.0" font-size="2.0">1</tspan></text>
<line x1="470.70000000000005" y1="61.2" x2="470.70000000000005" y2="62.400000000000006" stroke="#555" stroke-width="0.6" />
<text x="471.70000000000005" y="65.26" font-size="3.0" font-weight="normal" text-anchor="middle" fill="#222" >10<tspan dy="-1.0" font-size="2.0">2</tspan></text>
<line x1="490.75" y1="61.2" x2="490.75" y2="62.400000000000006" stroke="#555" stroke-width="0.6" />
<text x="491.75" y="65.26" font-size="3.0" font-weight="normal" text-anchor="middle" fill="#222" >10<tspan dy="-1.0" font-size="2.0">3</tspan></text>
<line x1="510.8" y1="61.2" x2="510.8" y2="62.400000000000006" stroke="#555" stroke-width="0.6" />
<text x="511.8" y="65.26" font-size="3.0" font-weight="normal" text-anchor="middle" fill="#222" >10<tspan dy="-1.0" font-size="2.0">4</tspan></text>
<line x1="429.1" y1="21" x2="430.6" y2="21" stroke="#555" stroke-width="0.6" />
<text x="429.0" y="22.2" font-size="3.0" font-weight="normal" text-anchor="end" fill="#333" >8</text>
<text x="429.0" y="62.1" font-size="3.0" font-weight="normal" text-anchor="end" fill="#333" >0</text>
<text transform="translate(427.9200000000001,44.1) rotate(-90)" font-size="2.8" font-weight="normal" text-anchor="middle" fill="#222">Events</text>
<path d="M434.3,61.1 L435.1,61.0 L435.9,60.8 L436.7,60.4 L437.5,59.9 L438.3,58.8 L439.1,57.4 L439.9,55.3 L440.7,52.2 L441.5,49.0 L442.3,44.8 L443.1,40.1 L443.9,35.3 L444.7,33.2 L445.5,29.7 L446.3,29.2 L447.1,30.8 L447.9,35.3 L448.7,40.9 L449.5,47.0 L450.3,51.8 L451.1,55.7 L451.9,58.0 L452.7,59.7 L453.5,60.5 L454.3,60.9 L455.1,61.1" fill="none" stroke="#666" stroke-width="0.6"  stroke-linejoin="round"/>
<path d="M452.7,61.2 L452.7,61.1 L453.5,61.0 L454.3,61.0 L455.1,60.8 L455.9,60.7 L456.7,60.3 L457.5,59.9 L458.3,59.5 L459.1,59.1 L459.9,58.5 L460.7,57.7 L461.5,56.8 L462.3,56.1 L463.1,54.8 L463.9,53.9 L464.7,51.7 L465.5,50.4 L466.3,49.9 L467.1,49.3 L467.9,46.3 L468.7,46.6 L469.5,45.1 L470.3,44.9 L471.1,42.4 L471.9,40.8 L472.7,39.5 L473.5,39.9 L474.3,38.1 L475.1,40.0 L475.9,39.4 L476.7,41.6 L477.5,43.1 L478.3,47.2 L479.1,50.4 L479.9,52.8 L480.7,55.5 L481.5,57.2 L482.3,58.8 L483.1,59.7 L483.9,60.4 L484.7,60.8 L485.5,61.0 L486.3,61.1 L486.3,61.2 Z" fill="#949494"/>
<path d="M452.7,61.1 L453.5,61.0 L454.3,61.0 L455.1,60.8 L455.9,60.7 L456.7,60.3 L457.5,59.9 L458.3,59.5 L459.1,59.1 L459.9,58.5 L460.7,57.7 L461.5,56.8 L462.3,56.1 L463.1,54.8 L463.9,53.9 L464.7,51.7 L465.5,50.4 L466.3,49.9 L467.1,49.3 L467.9,46.3 L468.7,46.6 L469.5,45.1 L470.3,44.9 L471.1,42.4 L471.9,40.8 L472.7,39.5 L473.5,39.9 L474.3,38.1 L475.1,40.0 L475.9,39.4 L476.7,41.6 L477.5,43.1 L478.3,47.2 L479.1,50.4 L479.9,52.8 L480.7,55.5 L481.5,57.2 L482.3,58.8 L483.1,59.7 L483.9,60.4 L484.7,60.8 L485.5,61.0 L486.3,61.1" fill="none" stroke="#2a2a2a" stroke-width="0.7"  stroke-linejoin="round"/>
<text x="271" y="98.6" font-size="12.3" font-weight="bold" text-anchor="start" fill="#000" ><tspan font-weight="normal" font-size="13">α</tspan>-DCIR</text>
<line x1="327" y1="72" x2="327" y2="112.6" stroke="#666" stroke-width="0.7" />
<line x1="326" y1="112.1" x2="405.6" y2="112.1" stroke="#555" stroke-width="0.7" />
<line x1="327.0" y1="112.1" x2="327.0" y2="113.3" stroke="#555" stroke-width="0.6" />
<text x="328.0" y="116.16" font-size="3.0" font-weight="normal" text-anchor="middle" fill="#222" >10<tspan dy="-1.0" font-size="2.0">0</tspan></text>
<line x1="346.65" y1="112.1" x2="346.65" y2="113.3" stroke="#555" stroke-width="0.6" />
<text x="347.65" y="116.16" font-size="3.0" font-weight="normal" text-anchor="middle" fill="#222" >10<tspan dy="-1.0" font-size="2.0">1</tspan></text>
<line x1="366.3" y1="112.1" x2="366.3" y2="113.3" stroke="#555" stroke-width="0.6" />
<text x="367.3" y="116.16" font-size="3.0" font-weight="normal" text-anchor="middle" fill="#222" >10<tspan dy="-1.0" font-size="2.0">2</tspan></text>
<line x1="385.95000000000005" y1="112.1" x2="385.95000000000005" y2="113.3" stroke="#555" stroke-width="0.6" />
<text x="386.95000000000005" y="116.16" font-size="3.0" font-weight="normal" text-anchor="middle" fill="#222" >10<tspan dy="-1.0" font-size="2.0">3</tspan></text>
<line x1="405.6" y1="112.1" x2="405.6" y2="113.3" stroke="#555" stroke-width="0.6" />
<text x="406.6" y="116.16" font-size="3.0" font-weight="normal" text-anchor="middle" fill="#222" >10<tspan dy="-1.0" font-size="2.0">4</tspan></text>
<line x1="325.5" y1="72" x2="327" y2="72" stroke="#555" stroke-width="0.6" />
<text x="325.4" y="73.2" font-size="3.0" font-weight="normal" text-anchor="end" fill="#333" >8</text>
<text x="325.4" y="113.0" font-size="3.0" font-weight="normal" text-anchor="end" fill="#333" >0</text>
<text transform="translate(324.32000000000005,95.05) rotate(-90)" font-size="2.8" font-weight="normal" text-anchor="middle" fill="#222">Events</text>
<path d="M328.3,112.0 L329.1,111.9 L329.9,111.6 L330.7,111.2 L331.5,110.4 L332.3,109.2 L333.1,107.4 L333.9,104.8 L334.7,101.4 L335.5,97.3 L336.3,92.7 L337.1,88.0 L337.9,83.9 L338.7,80.8 L339.5,79.2 L340.3,79.6 L341.1,82.1 L341.9,86.3 L342.7,91.4 L343.5,96.7 L344.3,101.4 L345.1,105.2 L345.9,107.9 L346.7,109.8 L347.5,110.9 L348.3,111.5 L349.1,111.8 L349.9,112.0" fill="none" stroke="#666" stroke-width="0.6"  stroke-linejoin="round"/>
<path d="M328.3,112.1 L328.3,112.0 L329.1,112.0 L329.9,111.8 L330.7,111.5 L331.5,111.0 L332.3,110.1 L333.1,108.7 L333.9,106.2 L334.7,103.8 L335.5,99.4 L336.3,94.9 L337.1,91.1 L337.9,84.1 L338.7,79.4 L339.5,77.6 L340.3,77.2 L341.1,79.7 L341.9,86.3 L342.7,90.4 L343.5,95.2 L344.3,98.7 L345.1,101.7 L345.9,103.8 L346.7,105.4 L347.5,106.0 L348.3,106.7 L349.1,107.0 L349.9,107.6 L350.7,107.9 L351.5,108.2 L352.3,108.4 L353.1,108.8 L353.9,109.0 L354.7,109.4 L355.5,109.7 L356.3,110.0 L357.1,110.3 L357.9,110.6 L358.7,110.9 L359.5,111.0 L360.3,111.2 L361.1,111.4 L361.9,111.5 L362.7,111.7 L363.5,111.8 L364.3,111.8 L365.1,111.9 L365.9,111.9 L366.7,112.0 L366.7,112.1 Z" fill="#949494"/>
<path d="M328.3,112.0 L329.1,112.0 L329.9,111.8 L330.7,111.5 L331.5,111.0 L332.3,110.1 L333.1,108.7 L333.9,106.2 L334.7,103.8 L335.5,99.4 L336.3,94.9 L337.1,91.1 L337.9,84.1 L338.7,79.4 L339.5,77.6 L340.3,77.2 L341.1,79.7 L341.9,86.3 L342.7,90.4 L343.5,95.2 L344.3,98.7 L345.1,101.7 L345.9,103.8 L346.7,105.4 L347.5,106.0 L348.3,106.7 L349.1,107.0 L349.9,107.6 L350.7,107.9 L351.5,108.2 L352.3,108.4 L353.1,108.8 L353.9,109.0 L354.7,109.4 L355.5,109.7 L356.3,110.0 L357.1,110.3 L357.9,110.6 L358.7,110.9 L359.5,111.0 L360.3,111.2 L361.1,111.4 L361.9,111.5 L362.7,111.7 L363.5,111.8 L364.3,111.8 L365.1,111.9 L365.9,111.9 L366.7,112.0" fill="none" stroke="#2a2a2a" stroke-width="0.7"  stroke-linejoin="round"/>
<line x1="430.6" y1="69.5" x2="430.6" y2="111.0" stroke="#666" stroke-width="0.7" />
<line x1="429.6" y1="110.5" x2="513.5" y2="110.5" stroke="#555" stroke-width="0.7" />
<line x1="430.6" y1="110.5" x2="430.6" y2="111.7" stroke="#555" stroke-width="0.6" />
<text x="431.6" y="114.56" font-size="3.0" font-weight="normal" text-anchor="middle" fill="#222" >10<tspan dy="-1.0" font-size="2.0">0</tspan></text>
<line x1="451.32500000000005" y1="110.5" x2="451.32500000000005" y2="111.7" stroke="#555" stroke-width="0.6" />
<text x="452.32500000000005" y="114.56" font-size="3.0" font-weight="normal" text-anchor="middle" fill="#222" >10<tspan dy="-1.0" font-size="2.0">1</tspan></text>
<line x1="472.05" y1="110.5" x2="472.05" y2="111.7" stroke="#555" stroke-width="0.6" />
<text x="473.05" y="114.56" font-size="3.0" font-weight="normal" text-anchor="middle" fill="#222" >10<tspan dy="-1.0" font-size="2.0">2</tspan></text>
<line x1="492.775" y1="110.5" x2="492.775" y2="111.7" stroke="#555" stroke-width="0.6" />
<text x="493.775" y="114.56" font-size="3.0" font-weight="normal" text-anchor="middle" fill="#222" >10<tspan dy="-1.0" font-size="2.0">3</tspan></text>
<line x1="513.5" y1="110.5" x2="513.5" y2="111.7" stroke="#555" stroke-width="0.6" />
<text x="514.5" y="114.56" font-size="3.0" font-weight="normal" text-anchor="middle" fill="#222" >10<tspan dy="-1.0" font-size="2.0">4</tspan></text>
<line x1="429.1" y1="69.5" x2="430.6" y2="69.5" stroke="#555" stroke-width="0.6" />
<text x="429.0" y="70.7" font-size="3.0" font-weight="normal" text-anchor="end" fill="#333" >8</text>
<text x="429.0" y="111.4" font-size="3.0" font-weight="normal" text-anchor="end" fill="#333" >0</text>
<text transform="translate(427.9200000000001,93.0) rotate(-90)" font-size="2.8" font-weight="normal" text-anchor="middle" fill="#222">Events</text>
<path d="M436.7,110.4 L437.5,110.2 L438.3,110.0 L439.1,109.5 L439.9,108.5 L440.7,107.2 L441.5,105.1 L442.3,102.1 L443.1,97.9 L443.9,94.1 L444.7,88.7 L445.5,84.0 L446.3,81.8 L447.1,80.4 L447.9,80.5 L448.7,82.7 L449.5,87.0 L450.3,92.5 L451.1,97.6 L451.9,102.4 L452.7,105.6 L453.5,107.7 L454.3,109.0 L455.1,109.8 L455.9,110.2 L456.7,110.4 L457.5,110.5" fill="none" stroke="#666" stroke-width="0.6"  stroke-linejoin="round"/>
<path d="M453.5,110.5 L453.5,110.4 L454.3,110.3 L455.1,110.2 L455.9,110.1 L456.7,109.9 L457.5,109.7 L458.3,109.4 L459.1,109.0 L459.9,108.3 L460.7,107.7 L461.5,107.0 L462.3,106.5 L463.1,105.4 L463.9,104.5 L464.7,103.4 L465.5,102.7 L466.3,100.0 L467.1,99.7 L467.9,96.2 L468.7,94.6 L469.5,95.8 L470.3,93.6 L471.1,91.9 L471.9,91.2 L472.7,92.9 L473.5,93.5 L474.3,93.8 L475.1,91.6 L475.9,94.1 L476.7,93.4 L477.5,95.8 L478.3,96.7 L479.1,98.2 L479.9,102.2 L480.7,103.7 L481.5,106.1 L482.3,107.4 L483.1,108.7 L483.9,109.6 L484.7,109.9 L485.5,110.2 L486.3,110.4 L487.1,110.4 L487.1,110.5 Z" fill="#949494"/>
<path d="M453.5,110.4 L454.3,110.3 L455.1,110.2 L455.9,110.1 L456.7,109.9 L457.5,109.7 L458.3,109.4 L459.1,109.0 L459.9,108.3 L460.7,107.7 L461.5,107.0 L462.3,106.5 L463.1,105.4 L463.9,104.5 L464.7,103.4 L465.5,102.7 L466.3,100.0 L467.1,99.7 L467.9,96.2 L468.7,94.6 L469.5,95.8 L470.3,93.6 L471.1,91.9 L471.9,91.2 L472.7,92.9 L473.5,93.5 L474.3,93.8 L475.1,91.6 L475.9,94.1 L476.7,93.4 L477.5,95.8 L478.3,96.7 L479.1,98.2 L479.9,102.2 L480.7,103.7 L481.5,106.1 L482.3,107.4 L483.1,108.7 L483.9,109.6 L484.7,109.9 L485.5,110.2 L486.3,110.4 L487.1,110.4" fill="none" stroke="#2a2a2a" stroke-width="0.7"  stroke-linejoin="round"/>
<line x1="324" y1="124.2" x2="497.6" y2="124.2" stroke="#000" stroke-width="2.3" />
<path d="M504,124.2 L496.6,120.5 L496.6,127.9 Z" fill="#000"/>
<text x="418" y="137" font-size="11" font-weight="bold" text-anchor="middle" fill="#000" >CD80</text>
<text x="271" y="174" font-size="12.2" font-weight="bold" text-anchor="start" fill="#000" >mIgG1</text>
<line x1="330" y1="145.5" x2="330" y2="191.5" stroke="#666" stroke-width="0.7" />
<line x1="329" y1="191" x2="411" y2="191" stroke="#555" stroke-width="0.7" />
<line x1="330.0" y1="191" x2="330.0" y2="192.2" stroke="#555" stroke-width="0.6" />
<text x="331.0" y="196.256" font-size="4.3" font-weight="bold" text-anchor="middle" fill="#222" >10<tspan dy="-1.4" font-size="2.8">0</tspan></text>
<line x1="350.25" y1="191" x2="350.25" y2="192.2" stroke="#555" stroke-width="0.6" />
<text x="351.25" y="196.256" font-size="4.3" font-weight="bold" text-anchor="middle" fill="#222" >10<tspan dy="-1.4" font-size="2.8">1</tspan></text>
<line x1="370.5" y1="191" x2="370.5" y2="192.2" stroke="#555" stroke-width="0.6" />
<text x="371.5" y="196.256" font-size="4.3" font-weight="bold" text-anchor="middle" fill="#222" >10<tspan dy="-1.4" font-size="2.8">2</tspan></text>
<line x1="390.75" y1="191" x2="390.75" y2="192.2" stroke="#555" stroke-width="0.6" />
<text x="391.75" y="196.256" font-size="4.3" font-weight="bold" text-anchor="middle" fill="#222" >10<tspan dy="-1.4" font-size="2.8">3</tspan></text>
<line x1="411.0" y1="191" x2="411.0" y2="192.2" stroke="#555" stroke-width="0.6" />
<text x="412.0" y="196.256" font-size="4.3" font-weight="bold" text-anchor="middle" fill="#222" >10<tspan dy="-1.4" font-size="2.8">4</tspan></text>
<line x1="328.5" y1="145.5" x2="330" y2="145.5" stroke="#555" stroke-width="0.6" />
<text x="328.4" y="147.22" font-size="4.3" font-weight="normal" text-anchor="end" fill="#333" >8</text>
<text x="328.4" y="192.29" font-size="4.3" font-weight="normal" text-anchor="end" fill="#333" >0</text>
<text transform="translate(327.17,171.25) rotate(-90)" font-size="4.3" font-weight="bold" text-anchor="middle" fill="#222">Events</text>
<path d="M330.5,191.0 L330.5,189.5 L331.3,189.2 L332.1,188.6 L332.9,187.4 L333.7,186.4 L334.5,185.4 L335.3,184.2 L336.1,182.3 L336.9,180.5 L337.7,177.1 L338.5,177.2 L339.3,172.5 L340.1,169.6 L340.9,170.3 L341.7,164.1 L342.5,163.0 L343.3,160.0 L344.1,162.0 L344.9,160.3 L345.7,159.4 L346.5,155.1 L347.3,158.2 L348.1,160.8 L348.9,162.0 L349.7,164.8 L350.5,168.1 L351.3,169.8 L352.1,168.6 L352.9,172.7 L353.7,171.9 L354.5,175.7 L355.3,176.8 L356.1,177.2 L356.9,179.0 L357.7,179.3 L358.5,178.7 L359.3,179.6 L360.1,180.5 L360.9,181.5 L361.7,181.7 L362.5,182.3 L363.3,183.6 L364.1,184.1 L364.9,185.6 L365.7,185.5 L366.5,186.4 L367.3,186.7 L368.1,187.4 L368.9,188.1 L369.7,188.7 L370.5,188.7 L371.3,189.4 L372.1,189.6 L372.9,189.9 L373.7,190.1 L374.5,190.2 L375.3,190.3 L376.1,190.5 L376.9,190.6 L377.7,190.7 L378.5,190.8 L379.3,190.8 L380.1,190.9 L380.1,191.0 Z" fill="#949494"/>
<path d="M330.5,189.5 L331.3,189.2 L332.1,188.6 L332.9,187.4 L333.7,186.4 L334.5,185.4 L335.3,184.2 L336.1,182.3 L336.9,180.5 L337.7,177.1 L338.5,177.2 L339.3,172.5 L340.1,169.6 L340.9,170.3 L341.7,164.1 L342.5,163.0 L343.3,160.0 L344.1,162.0 L344.9,160.3 L345.7,159.4 L346.5,155.1 L347.3,158.2 L348.1,160.8 L348.9,162.0 L349.7,164.8 L350.5,168.1 L351.3,169.8 L352.1,168.6 L352.9,172.7 L353.7,171.9 L354.5,175.7 L355.3,176.8 L356.1,177.2 L356.9,179.0 L357.7,179.3 L358.5,178.7 L359.3,179.6 L360.1,180.5 L360.9,181.5 L361.7,181.7 L362.5,182.3 L363.3,183.6 L364.1,184.1 L364.9,185.6 L365.7,185.5 L366.5,186.4 L367.3,186.7 L368.1,187.4 L368.9,188.1 L369.7,188.7 L370.5,188.7 L371.3,189.4 L372.1,189.6 L372.9,189.9 L373.7,190.1 L374.5,190.2 L375.3,190.3 L376.1,190.5 L376.9,190.6 L377.7,190.7 L378.5,190.8 L379.3,190.8 L380.1,190.9" fill="none" stroke="#2a2a2a" stroke-width="0.7"  stroke-linejoin="round"/>
<path d="M330.5,190.1 L331.3,189.3 L332.1,188.0 L332.9,185.8 L333.7,182.8 L334.5,178.9 L335.3,174.0 L336.1,168.4 L336.9,161.6 L337.7,157.5 L338.5,154.8 L339.3,152.1 L340.1,152.8 L340.9,156.7 L341.7,161.2 L342.5,165.9 L343.3,171.0 L344.1,175.5 L344.9,179.9 L345.7,183.3 L346.5,185.9 L347.3,187.8 L348.1,189.0 L348.9,189.9 L349.7,190.4 L350.5,190.7 L351.3,190.9 L352.1,190.9" fill="none" stroke="#222" stroke-width="0.75" stroke-dasharray="1.1,0.9" stroke-linejoin="round"/>
<line x1="430.5" y1="147.5" x2="430.5" y2="193.5" stroke="#666" stroke-width="0.7" />
<line x1="429.5" y1="193" x2="513.5" y2="193" stroke="#555" stroke-width="0.7" />
<line x1="430.5" y1="193" x2="430.5" y2="194.2" stroke="#555" stroke-width="0.6" />
<text x="431.5" y="198.256" font-size="4.3" font-weight="bold" text-anchor="middle" fill="#222" >10<tspan dy="-1.4" font-size="2.8">0</tspan></text>
<line x1="451.25" y1="193" x2="451.25" y2="194.2" stroke="#555" stroke-width="0.6" />
<text x="452.25" y="198.256" font-size="4.3" font-weight="bold" text-anchor="middle" fill="#222" >10<tspan dy="-1.4" font-size="2.8">1</tspan></text>
<line x1="472.0" y1="193" x2="472.0" y2="194.2" stroke="#555" stroke-width="0.6" />
<text x="473.0" y="198.256" font-size="4.3" font-weight="bold" text-anchor="middle" fill="#222" >10<tspan dy="-1.4" font-size="2.8">2</tspan></text>
<line x1="492.75" y1="193" x2="492.75" y2="194.2" stroke="#555" stroke-width="0.6" />
<text x="493.75" y="198.256" font-size="4.3" font-weight="bold" text-anchor="middle" fill="#222" >10<tspan dy="-1.4" font-size="2.8">3</tspan></text>
<line x1="513.5" y1="193" x2="513.5" y2="194.2" stroke="#555" stroke-width="0.6" />
<text x="514.5" y="198.256" font-size="4.3" font-weight="bold" text-anchor="middle" fill="#222" >10<tspan dy="-1.4" font-size="2.8">4</tspan></text>
<line x1="429.0" y1="147.5" x2="430.5" y2="147.5" stroke="#555" stroke-width="0.6" />
<text x="428.9" y="149.22" font-size="4.3" font-weight="normal" text-anchor="end" fill="#333" >8</text>
<text x="428.9" y="194.29" font-size="4.3" font-weight="normal" text-anchor="end" fill="#333" >0</text>
<text transform="translate(427.67,173.25) rotate(-90)" font-size="4.3" font-weight="bold" text-anchor="middle" fill="#222">Events</text>
<path d="M443.0,193.0 L443.0,192.9 L443.8,192.8 L444.6,192.7 L445.4,192.4 L446.2,191.9 L447.0,191.2 L447.8,190.3 L448.6,189.6 L449.4,188.2 L450.2,186.1 L451.0,187.3 L451.8,186.3 L452.6,186.0 L453.4,185.4 L454.2,186.8 L455.0,186.8 L455.8,186.9 L456.6,186.7 L457.4,186.7 L458.2,185.8 L459.0,186.1 L459.8,186.1 L460.6,187.9 L461.4,187.9 L462.2,186.6 L463.0,186.3 L463.8,187.0 L464.6,186.8 L465.4,187.9 L466.2,187.0 L467.0,185.8 L467.8,185.8 L468.6,185.5 L469.4,184.9 L470.2,186.3 L471.0,186.3 L471.8,185.9 L472.6,184.6 L473.4,183.7 L474.2,182.5 L475.0,182.7 L475.8,182.5 L476.6,181.7 L477.4,182.4 L478.2,181.7 L479.0,183.3 L479.8,180.4 L480.6,182.3 L481.4,179.6 L482.2,180.7 L483.0,182.2 L483.8,183.1 L484.6,183.1 L485.4,182.4 L486.2,183.0 L487.0,185.5 L487.8,186.3 L488.6,186.1 L489.4,186.8 L490.2,188.0 L491.0,189.0 L491.8,189.2 L492.6,190.4 L493.4,190.7 L494.2,191.0 L495.0,191.2 L495.8,191.7 L496.6,192.0 L497.4,192.3 L498.2,192.5 L499.0,192.6 L499.8,192.7 L500.6,192.8 L501.4,192.9 L502.2,192.9 L502.2,193.0 Z" fill="#949494"/>
<path d="M443.0,192.9 L443.8,192.8 L444.6,192.7 L445.4,192.4 L446.2,191.9 L447.0,191.2 L447.8,190.3 L448.6,189.6 L449.4,188.2 L450.2,186.1 L451.0,187.3 L451.8,186.3 L452.6,186.0 L453.4,185.4 L454.2,186.8 L455.0,186.8 L455.8,186.9 L456.6,186.7 L457.4,186.7 L458.2,185.8 L459.0,186.1 L459.8,186.1 L460.6,187.9 L461.4,187.9 L462.2,186.6 L463.0,186.3 L463.8,187.0 L464.6,186.8 L465.4,187.9 L466.2,187.0 L467.0,185.8 L467.8,185.8 L468.6,185.5 L469.4,184.9 L470.2,186.3 L471.0,186.3 L471.8,185.9 L472.6,184.6 L473.4,183.7 L474.2,182.5 L475.0,182.7 L475.8,182.5 L476.6,181.7 L477.4,182.4 L478.2,181.7 L479.0,183.3 L479.8,180.4 L480.6,182.3 L481.4,179.6 L482.2,180.7 L483.0,182.2 L483.8,183.1 L484.6,183.1 L485.4,182.4 L486.2,183.0 L487.0,185.5 L487.8,186.3 L488.6,186.1 L489.4,186.8 L490.2,188.0 L491.0,189.0 L491.8,189.2 L492.6,190.4 L493.4,190.7 L494.2,191.0 L495.0,191.2 L495.8,191.7 L496.6,192.0 L497.4,192.3 L498.2,192.5 L499.0,192.6 L499.8,192.7 L500.6,192.8 L501.4,192.9 L502.2,192.9" fill="none" stroke="#2a2a2a" stroke-width="0.7"  stroke-linejoin="round"/>
<path d="M433.4,192.9 L434.2,192.8 L435.0,192.6 L435.8,192.3 L436.6,191.7 L437.4,190.7 L438.2,189.4 L439.0,187.6 L439.8,184.6 L440.6,180.9 L441.4,176.9 L442.2,172.5 L443.0,166.9 L443.8,161.6 L444.6,159.6 L445.4,157.7 L446.2,156.0 L447.0,157.8 L447.8,162.5 L448.6,170.8 L449.4,177.2 L450.2,183.5 L451.0,187.9 L451.8,190.6 L452.6,191.9 L453.4,192.6 L454.2,192.9 L455.0,193.0" fill="none" stroke="#222" stroke-width="0.75" stroke-dasharray="1.1,0.9" stroke-linejoin="round"/>
<text x="271" y="231" font-size="12.3" font-weight="bold" text-anchor="start" fill="#000" ><tspan font-weight="normal" font-size="13">α</tspan>-DCIR</text>
<line x1="330" y1="205.5" x2="330" y2="246.75" stroke="#666" stroke-width="0.7" />
<line x1="329" y1="246.25" x2="411" y2="246.25" stroke="#555" stroke-width="0.7" />
<line x1="330.0" y1="246.25" x2="330.0" y2="247.45" stroke="#555" stroke-width="0.6" />
<text x="331.0" y="251.506" font-size="4.3" font-weight="bold" text-anchor="middle" fill="#222" >10<tspan dy="-1.4" font-size="2.8">0</tspan></text>
<line x1="350.25" y1="246.25" x2="350.25" y2="247.45" stroke="#555" stroke-width="0.6" />
<text x="351.25" y="251.506" font-size="4.3" font-weight="bold" text-anchor="middle" fill="#222" >10<tspan dy="-1.4" font-size="2.8">1</tspan></text>
<line x1="370.5" y1="246.25" x2="370.5" y2="247.45" stroke="#555" stroke-width="0.6" />
<text x="371.5" y="251.506" font-size="4.3" font-weight="bold" text-anchor="middle" fill="#222" >10<tspan dy="-1.4" font-size="2.8">2</tspan></text>
<line x1="390.75" y1="246.25" x2="390.75" y2="247.45" stroke="#555" stroke-width="0.6" />
<text x="391.75" y="251.506" font-size="4.3" font-weight="bold" text-anchor="middle" fill="#222" >10<tspan dy="-1.4" font-size="2.8">3</tspan></text>
<line x1="411.0" y1="246.25" x2="411.0" y2="247.45" stroke="#555" stroke-width="0.6" />
<text x="412.0" y="251.506" font-size="4.3" font-weight="bold" text-anchor="middle" fill="#222" >10<tspan dy="-1.4" font-size="2.8">4</tspan></text>
<line x1="328.5" y1="205.5" x2="330" y2="205.5" stroke="#555" stroke-width="0.6" />
<text x="328.4" y="207.22" font-size="4.3" font-weight="normal" text-anchor="end" fill="#333" >8</text>
<text x="328.4" y="247.54" font-size="4.3" font-weight="normal" text-anchor="end" fill="#333" >0</text>
<text transform="translate(327.17,228.875) rotate(-90)" font-size="4.3" font-weight="bold" text-anchor="middle" fill="#222">Events</text>
<path d="M330.5,246.2 L330.5,245.9 L331.3,245.6 L332.1,245.1 L332.9,244.7 L333.7,243.9 L334.5,242.3 L335.3,241.2 L336.1,238.3 L336.9,236.8 L337.7,235.2 L338.5,232.6 L339.3,229.4 L340.1,225.9 L340.9,222.4 L341.7,225.2 L342.5,223.1 L343.3,223.9 L344.1,219.8 L344.9,224.7 L345.7,224.8 L346.5,223.7 L347.3,220.5 L348.1,217.3 L348.9,218.9 L349.7,222.0 L350.5,222.9 L351.3,225.1 L352.1,229.3 L352.9,231.2 L353.7,229.8 L354.5,231.8 L355.3,235.0 L356.1,234.0 L356.9,235.4 L357.7,235.8 L358.5,236.3 L359.3,237.1 L360.1,238.0 L360.9,237.9 L361.7,238.2 L362.5,237.5 L363.3,239.5 L364.1,238.6 L364.9,240.4 L365.7,240.7 L366.5,240.6 L367.3,241.2 L368.1,242.2 L368.9,243.1 L369.7,243.2 L370.5,243.7 L371.3,243.9 L372.1,244.6 L372.9,244.8 L373.7,245.0 L374.5,245.4 L375.3,245.5 L376.1,245.6 L376.9,245.8 L377.7,245.9 L378.5,246.0 L379.3,246.1 L380.1,246.1 L380.9,246.2 L380.9,246.2 Z" fill="#949494"/>
<path d="M330.5,245.9 L331.3,245.6 L332.1,245.1 L332.9,244.7 L333.7,243.9 L334.5,242.3 L335.3,241.2 L336.1,238.3 L336.9,236.8 L337.7,235.2 L338.5,232.6 L339.3,229.4 L340.1,225.9 L340.9,222.4 L341.7,225.2 L342.5,223.1 L343.3,223.9 L344.1,219.8 L344.9,224.7 L345.7,224.8 L346.5,223.7 L347.3,220.5 L348.1,217.3 L348.9,218.9 L349.7,222.0 L350.5,222.9 L351.3,225.1 L352.1,229.3 L352.9,231.2 L353.7,229.8 L354.5,231.8 L355.3,235.0 L356.1,234.0 L356.9,235.4 L357.7,235.8 L358.5,236.3 L359.3,237.1 L360.1,238.0 L360.9,237.9 L361.7,238.2 L362.5,237.5 L363.3,239.5 L364.1,238.6 L364.9,240.4 L365.7,240.7 L366.5,240.6 L367.3,241.2 L368.1,242.2 L368.9,243.1 L369.7,243.2 L370.5,243.7 L371.3,243.9 L372.1,244.6 L372.9,244.8 L373.7,245.0 L374.5,245.4 L375.3,245.5 L376.1,245.6 L376.9,245.8 L377.7,245.9 L378.5,246.0 L379.3,246.1 L380.1,246.1 L380.9,246.2" fill="none" stroke="#2a2a2a" stroke-width="0.7"  stroke-linejoin="round"/>
<path d="M330.5,245.8 L331.3,245.3 L332.1,244.5 L332.9,243.0 L333.7,240.7 L334.5,236.7 L335.3,233.0 L336.1,227.1 L336.9,221.3 L337.7,218.1 L338.5,215.1 L339.3,211.7 L340.1,213.7 L340.9,217.1 L341.7,219.3 L342.5,224.4 L343.3,228.8 L344.1,233.4 L344.9,236.2 L345.7,239.2 L346.5,241.7 L347.3,243.3 L348.1,244.7 L348.9,245.3 L349.7,245.7 L350.5,246.0 L351.3,246.1 L352.1,246.2" fill="none" stroke="#222" stroke-width="0.75" stroke-dasharray="1.1,0.9" stroke-linejoin="round"/>
<line x1="430.5" y1="202.5" x2="430.5" y2="248.0" stroke="#666" stroke-width="0.7" />
<line x1="429.5" y1="247.5" x2="513.5" y2="247.5" stroke="#555" stroke-width="0.7" />
<line x1="430.5" y1="247.5" x2="430.5" y2="248.7" stroke="#555" stroke-width="0.6" />
<text x="431.5" y="252.756" font-size="4.3" font-weight="bold" text-anchor="middle" fill="#222" >10<tspan dy="-1.4" font-size="2.8">0</tspan></text>
<line x1="451.25" y1="247.5" x2="451.25" y2="248.7" stroke="#555" stroke-width="0.6" />
<text x="452.25" y="252.756" font-size="4.3" font-weight="bold" text-anchor="middle" fill="#222" >10<tspan dy="-1.4" font-size="2.8">1</tspan></text>
<line x1="472.0" y1="247.5" x2="472.0" y2="248.7" stroke="#555" stroke-width="0.6" />
<text x="473.0" y="252.756" font-size="4.3" font-weight="bold" text-anchor="middle" fill="#222" >10<tspan dy="-1.4" font-size="2.8">2</tspan></text>
<line x1="492.75" y1="247.5" x2="492.75" y2="248.7" stroke="#555" stroke-width="0.6" />
<text x="493.75" y="252.756" font-size="4.3" font-weight="bold" text-anchor="middle" fill="#222" >10<tspan dy="-1.4" font-size="2.8">3</tspan></text>
<line x1="513.5" y1="247.5" x2="513.5" y2="248.7" stroke="#555" stroke-width="0.6" />
<text x="514.5" y="252.756" font-size="4.3" font-weight="bold" text-anchor="middle" fill="#222" >10<tspan dy="-1.4" font-size="2.8">4</tspan></text>
<line x1="429.0" y1="202.5" x2="430.5" y2="202.5" stroke="#555" stroke-width="0.6" />
<text x="428.9" y="204.22" font-size="4.3" font-weight="normal" text-anchor="end" fill="#333" >8</text>
<text x="428.9" y="248.79" font-size="4.3" font-weight="normal" text-anchor="end" fill="#333" >0</text>
<text transform="translate(427.67,228.0) rotate(-90)" font-size="4.3" font-weight="bold" text-anchor="middle" fill="#222">Events</text>
<path d="M438.2,247.5 L438.2,247.4 L439.0,247.3 L439.8,247.1 L440.6,246.8 L441.4,246.3 L442.2,246.0 L443.0,245.4 L443.8,244.4 L444.6,243.5 L445.4,241.9 L446.2,242.5 L447.0,241.1 L447.8,241.0 L448.6,240.8 L449.4,240.8 L450.2,241.1 L451.0,241.7 L451.8,241.7 L452.6,241.7 L453.4,240.9 L454.2,242.3 L455.0,242.0 L455.8,240.9 L456.6,241.8 L457.4,242.1 L458.2,242.1 L459.0,241.0 L459.8,241.3 L460.6,239.9 L461.4,239.9 L462.2,239.6 L463.0,241.0 L463.8,241.3 L464.6,241.2 L465.4,240.1 L466.2,239.4 L467.0,239.9 L467.8,240.3 L468.6,239.7 L469.4,238.9 L470.2,238.6 L471.0,238.2 L471.8,237.7 L472.6,238.0 L473.4,239.4 L474.2,237.1 L475.0,238.6 L475.8,237.6 L476.6,238.1 L477.4,237.0 L478.2,238.6 L479.0,238.5 L479.8,238.6 L480.6,239.2 L481.4,237.4 L482.2,238.8 L483.0,240.0 L483.8,240.5 L484.6,239.9 L485.4,241.6 L486.2,242.8 L487.0,242.6 L487.8,243.5 L488.6,243.8 L489.4,245.2 L490.2,245.4 L491.0,245.6 L491.8,246.0 L492.6,246.3 L493.4,246.8 L494.2,246.9 L495.0,247.0 L495.8,247.2 L496.6,247.3 L497.4,247.3 L498.2,247.4 L499.0,247.4 L499.0,247.5 Z" fill="#949494"/>
<path d="M438.2,247.4 L439.0,247.3 L439.8,247.1 L440.6,246.8 L441.4,246.3 L442.2,246.0 L443.0,245.4 L443.8,244.4 L444.6,243.5 L445.4,241.9 L446.2,242.5 L447.0,241.1 L447.8,241.0 L448.6,240.8 L449.4,240.8 L450.2,241.1 L451.0,241.7 L451.8,241.7 L452.6,241.7 L453.4,240.9 L454.2,242.3 L455.0,242.0 L455.8,240.9 L456.6,241.8 L457.4,242.1 L458.2,242.1 L459.0,241.0 L459.8,241.3 L460.6,239.9 L461.4,239.9 L462.2,239.6 L463.0,241.0 L463.8,241.3 L464.6,241.2 L465.4,240.1 L466.2,239.4 L467.0,239.9 L467.8,240.3 L468.6,239.7 L469.4,238.9 L470.2,238.6 L471.0,238.2 L471.8,237.7 L472.6,238.0 L473.4,239.4 L474.2,237.1 L475.0,238.6 L475.8,237.6 L476.6,238.1 L477.4,237.0 L478.2,238.6 L479.0,238.5 L479.8,238.6 L480.6,239.2 L481.4,237.4 L482.2,238.8 L483.0,240.0 L483.8,240.5 L484.6,239.9 L485.4,241.6 L486.2,242.8 L487.0,242.6 L487.8,243.5 L488.6,243.8 L489.4,245.2 L490.2,245.4 L491.0,245.6 L491.8,246.0 L492.6,246.3 L493.4,246.8 L494.2,246.9 L495.0,247.0 L495.8,247.2 L496.6,247.3 L497.4,247.3 L498.2,247.4 L499.0,247.4" fill="none" stroke="#2a2a2a" stroke-width="0.7"  stroke-linejoin="round"/>
<path d="M431.0,247.3 L431.8,247.1 L432.6,246.8 L433.4,246.4 L434.2,245.5 L435.0,244.5 L435.8,242.7 L436.6,240.9 L437.4,237.8 L438.2,234.9 L439.0,231.4 L439.8,226.1 L440.6,221.0 L441.4,219.0 L442.2,213.6 L443.0,210.5 L443.8,210.1 L444.6,209.0 L445.4,212.1 L446.2,216.9 L447.0,223.5 L447.8,229.9 L448.6,236.1 L449.4,241.1 L450.2,244.1 L451.0,245.8 L451.8,246.7 L452.6,247.2 L453.4,247.4" fill="none" stroke="#222" stroke-width="0.75" stroke-dasharray="1.1,0.9" stroke-linejoin="round"/>
<line x1="328.5" y1="256.3" x2="502.3" y2="256.3" stroke="#000" stroke-width="2.4" />
<path d="M508.7,256.3 L501.3,252.60000000000002 L501.3,260.0 Z" fill="#000"/>
<text x="419" y="271" font-size="11" font-weight="bold" text-anchor="middle" fill="#000" >CD86</text>
<text x="271" y="315" font-size="12.2" font-weight="bold" text-anchor="start" fill="#000" >mIgG1</text>
<line x1="331" y1="285.5" x2="331" y2="330.0" stroke="#666" stroke-width="0.7" />
<line x1="330" y1="329.5" x2="411" y2="329.5" stroke="#555" stroke-width="0.7" />
<line x1="331.0" y1="329.5" x2="331.0" y2="330.7" stroke="#555" stroke-width="0.6" />
<text x="332.0" y="334.75600000000003" font-size="4.3" font-weight="bold" text-anchor="middle" fill="#222" >10<tspan dy="-1.4" font-size="2.8">0</tspan></text>
<line x1="351.0" y1="329.5" x2="351.0" y2="330.7" stroke="#555" stroke-width="0.6" />
<text x="352.0" y="334.75600000000003" font-size="4.3" font-weight="bold" text-anchor="middle" fill="#222" >10<tspan dy="-1.4" font-size="2.8">1</tspan></text>
<line x1="371.0" y1="329.5" x2="371.0" y2="330.7" stroke="#555" stroke-width="0.6" />
<text x="372.0" y="334.75600000000003" font-size="4.3" font-weight="bold" text-anchor="middle" fill="#222" >10<tspan dy="-1.4" font-size="2.8">2</tspan></text>
<line x1="391.0" y1="329.5" x2="391.0" y2="330.7" stroke="#555" stroke-width="0.6" />
<text x="392.0" y="334.75600000000003" font-size="4.3" font-weight="bold" text-anchor="middle" fill="#222" >10<tspan dy="-1.4" font-size="2.8">3</tspan></text>
<line x1="411.0" y1="329.5" x2="411.0" y2="330.7" stroke="#555" stroke-width="0.6" />
<text x="412.0" y="334.75600000000003" font-size="4.3" font-weight="bold" text-anchor="middle" fill="#222" >10<tspan dy="-1.4" font-size="2.8">4</tspan></text>
<line x1="329.5" y1="285.5" x2="331" y2="285.5" stroke="#555" stroke-width="0.6" />
<text x="329.4" y="287.22" font-size="4.3" font-weight="normal" text-anchor="end" fill="#333" >8</text>
<text x="329.4" y="330.79" font-size="4.3" font-weight="normal" text-anchor="end" fill="#333" >0</text>
<text transform="translate(328.17,310.5) rotate(-90)" font-size="4.3" font-weight="bold" text-anchor="middle" fill="#222">Events</text>
<path d="M331.5,329.3 L332.3,329.1 L333.1,328.7 L333.9,327.9 L334.7,326.7 L335.5,324.7 L336.3,322.1 L337.1,318.7 L337.9,314.3 L338.7,308.7 L339.5,303.0 L340.3,297.6 L341.1,294.5 L341.9,291.9 L342.7,290.1 L343.5,293.1 L344.3,298.2 L345.1,304.5 L345.9,310.3 L346.7,317.0 L347.5,321.6 L348.3,325.0 L349.1,327.1 L349.9,328.3 L350.7,328.9 L351.5,329.3 L352.3,329.4" fill="none" stroke="#222" stroke-width="0.75" stroke-dasharray="1.1,0.9" stroke-linejoin="round"/>
<path d="M345.1,329.5 L345.1,329.4 L345.9,329.4 L346.7,329.3 L347.5,329.2 L348.3,329.1 L349.1,329.0 L349.9,328.8 L350.7,328.5 L351.5,328.3 L352.3,328.0 L353.1,327.4 L353.9,327.1 L354.7,326.4 L355.5,325.9 L356.3,324.9 L357.1,324.3 L357.9,323.5 L358.7,322.5 L359.5,320.6 L360.3,318.8 L361.1,316.6 L361.9,316.2 L362.7,313.0 L363.5,311.5 L364.3,309.1 L365.1,308.4 L365.9,306.4 L366.7,304.3 L367.5,302.0 L368.3,304.7 L369.1,303.4 L369.9,302.9 L370.7,303.4 L371.5,307.3 L372.3,309.0 L373.1,308.5 L373.9,310.5 L374.7,313.8 L375.5,316.6 L376.3,317.0 L377.1,319.7 L377.9,320.8 L378.7,322.7 L379.5,323.9 L380.3,325.5 L381.1,326.1 L381.9,327.1 L382.7,327.6 L383.5,328.0 L384.3,328.4 L385.1,328.8 L385.9,329.0 L386.7,329.2 L387.5,329.3 L388.3,329.3 L389.1,329.4 L389.1,329.5 Z" fill="#949494"/>
<path d="M345.1,329.4 L345.9,329.4 L346.7,329.3 L347.5,329.2 L348.3,329.1 L349.1,329.0 L349.9,328.8 L350.7,328.5 L351.5,328.3 L352.3,328.0 L353.1,327.4 L353.9,327.1 L354.7,326.4 L355.5,325.9 L356.3,324.9 L357.1,324.3 L357.9,323.5 L358.7,322.5 L359.5,320.6 L360.3,318.8 L361.1,316.6 L361.9,316.2 L362.7,313.0 L363.5,311.5 L364.3,309.1 L365.1,308.4 L365.9,306.4 L366.7,304.3 L367.5,302.0 L368.3,304.7 L369.1,303.4 L369.9,302.9 L370.7,303.4 L371.5,307.3 L372.3,309.0 L373.1,308.5 L373.9,310.5 L374.7,313.8 L375.5,316.6 L376.3,317.0 L377.1,319.7 L377.9,320.8 L378.7,322.7 L379.5,323.9 L380.3,325.5 L381.1,326.1 L381.9,327.1 L382.7,327.6 L383.5,328.0 L384.3,328.4 L385.1,328.8 L385.9,329.0 L386.7,329.2 L387.5,329.3 L388.3,329.3 L389.1,329.4" fill="none" stroke="#2a2a2a" stroke-width="0.7"  stroke-linejoin="round"/>
<line x1="431.3" y1="287" x2="431.3" y2="331.7" stroke="#666" stroke-width="0.7" />
<line x1="430.3" y1="331.2" x2="514.5" y2="331.2" stroke="#555" stroke-width="0.7" />
<line x1="431.3" y1="331.2" x2="431.3" y2="332.4" stroke="#555" stroke-width="0.6" />
<text x="432.3" y="336.456" font-size="4.3" font-weight="bold" text-anchor="middle" fill="#222" >10<tspan dy="-1.4" font-size="2.8">0</tspan></text>
<line x1="452.1" y1="331.2" x2="452.1" y2="332.4" stroke="#555" stroke-width="0.6" />
<text x="453.1" y="336.456" font-size="4.3" font-weight="bold" text-anchor="middle" fill="#222" >10<tspan dy="-1.4" font-size="2.8">1</tspan></text>
<line x1="472.9" y1="331.2" x2="472.9" y2="332.4" stroke="#555" stroke-width="0.6" />
<text x="473.9" y="336.456" font-size="4.3" font-weight="bold" text-anchor="middle" fill="#222" >10<tspan dy="-1.4" font-size="2.8">2</tspan></text>
<line x1="493.7" y1="331.2" x2="493.7" y2="332.4" stroke="#555" stroke-width="0.6" />
<text x="494.7" y="336.456" font-size="4.3" font-weight="bold" text-anchor="middle" fill="#222" >10<tspan dy="-1.4" font-size="2.8">3</tspan></text>
<line x1="514.5" y1="331.2" x2="514.5" y2="332.4" stroke="#555" stroke-width="0.6" />
<text x="515.5" y="336.456" font-size="4.3" font-weight="bold" text-anchor="middle" fill="#222" >10<tspan dy="-1.4" font-size="2.8">4</tspan></text>
<line x1="429.8" y1="287" x2="431.3" y2="287" stroke="#555" stroke-width="0.6" />
<text x="429.7" y="288.72" font-size="4.3" font-weight="normal" text-anchor="end" fill="#333" >8</text>
<text x="429.7" y="332.49" font-size="4.3" font-weight="normal" text-anchor="end" fill="#333" >0</text>
<text transform="translate(428.47,312.1) rotate(-90)" font-size="4.3" font-weight="bold" text-anchor="middle" fill="#222">Events</text>
<path d="M431.8,331.0 L432.6,330.9 L433.4,330.7 L434.2,330.3 L435.0,329.8 L435.8,329.0 L436.6,327.8 L437.4,326.0 L438.2,323.7 L439.0,321.6 L439.8,318.0 L440.6,314.1 L441.4,311.5 L442.2,306.3 L443.0,304.4 L443.8,300.6 L444.6,298.8 L445.4,297.9 L446.2,299.6 L447.0,302.3 L447.8,306.4 L448.6,312.0 L449.4,316.8 L450.2,321.6 L451.0,325.1 L451.8,327.7 L452.6,329.2 L453.4,330.2 L454.2,330.7 L455.0,331.0 L455.8,331.1" fill="none" stroke="#222" stroke-width="0.75" stroke-dasharray="1.1,0.9" stroke-linejoin="round"/>
<path d="M451.0,331.2 L451.0,331.1 L451.8,331.1 L452.6,331.0 L453.4,331.0 L454.2,330.9 L455.0,330.8 L455.8,330.7 L456.6,330.6 L457.4,330.4 L458.2,330.2 L459.0,330.1 L459.8,330.0 L460.6,329.7 L461.4,329.5 L462.2,329.3 L463.0,328.9 L463.8,328.7 L464.6,328.2 L465.4,327.8 L466.2,327.7 L467.0,326.9 L467.8,326.9 L468.6,325.9 L469.4,325.3 L470.2,325.0 L471.0,325.0 L471.8,323.8 L472.6,323.2 L473.4,321.6 L474.2,322.1 L475.0,319.9 L475.8,318.6 L476.6,318.1 L477.4,316.8 L478.2,317.4 L479.0,314.1 L479.8,314.5 L480.6,312.0 L481.4,311.1 L482.2,312.9 L483.0,310.1 L483.8,309.1 L484.6,312.2 L485.4,311.2 L486.2,310.0 L487.0,312.7 L487.8,310.9 L488.6,314.0 L489.4,313.5 L490.2,316.7 L491.0,317.1 L491.8,317.5 L492.6,320.5 L493.4,321.8 L494.2,322.7 L495.0,324.2 L495.8,325.6 L496.6,326.5 L497.4,327.3 L498.2,327.6 L499.0,328.5 L499.8,329.0 L500.6,329.7 L501.4,329.9 L502.2,330.4 L503.0,330.5 L503.8,330.7 L504.6,330.8 L505.4,330.9 L506.2,331.0 L507.0,331.1 L507.8,331.1 L507.8,331.2 Z" fill="#949494"/>
<path d="M451.0,331.1 L451.8,331.1 L452.6,331.0 L453.4,331.0 L454.2,330.9 L455.0,330.8 L455.8,330.7 L456.6,330.6 L457.4,330.4 L458.2,330.2 L459.0,330.1 L459.8,330.0 L460.6,329.7 L461.4,329.5 L462.2,329.3 L463.0,328.9 L463.8,328.7 L464.6,328.2 L465.4,327.8 L466.2,327.7 L467.0,326.9 L467.8,326.9 L468.6,325.9 L469.4,325.3 L470.2,325.0 L471.0,325.0 L471.8,323.8 L472.6,323.2 L473.4,321.6 L474.2,322.1 L475.0,319.9 L475.8,318.6 L476.6,318.1 L477.4,316.8 L478.2,317.4 L479.0,314.1 L479.8,314.5 L480.6,312.0 L481.4,311.1 L482.2,312.9 L483.0,310.1 L483.8,309.1 L484.6,312.2 L485.4,311.2 L486.2,310.0 L487.0,312.7 L487.8,310.9 L488.6,314.0 L489.4,313.5 L490.2,316.7 L491.0,317.1 L491.8,317.5 L492.6,320.5 L493.4,321.8 L494.2,322.7 L495.0,324.2 L495.8,325.6 L496.6,326.5 L497.4,327.3 L498.2,327.6 L499.0,328.5 L499.8,329.0 L500.6,329.7 L501.4,329.9 L502.2,330.4 L503.0,330.5 L503.8,330.7 L504.6,330.8 L505.4,330.9 L506.2,331.0 L507.0,331.1 L507.8,331.1" fill="none" stroke="#2a2a2a" stroke-width="0.7"  stroke-linejoin="round"/>
<text x="271" y="373" font-size="12.3" font-weight="bold" text-anchor="start" fill="#000" ><tspan font-weight="normal" font-size="13">α</tspan>-DCIR</text>
<line x1="331" y1="341" x2="331" y2="385.8" stroke="#666" stroke-width="0.7" />
<line x1="330" y1="385.3" x2="411.3" y2="385.3" stroke="#555" stroke-width="0.7" />
<line x1="331.0" y1="385.3" x2="331.0" y2="386.5" stroke="#555" stroke-width="0.6" />
<text x="332.0" y="390.55600000000004" font-size="4.3" font-weight="bold" text-anchor="middle" fill="#222" >10<tspan dy="-1.4" font-size="2.8">0</tspan></text>
<line x1="351.075" y1="385.3" x2="351.075" y2="386.5" stroke="#555" stroke-width="0.6" />
<text x="352.075" y="390.55600000000004" font-size="4.3" font-weight="bold" text-anchor="middle" fill="#222" >10<tspan dy="-1.4" font-size="2.8">1</tspan></text>
<line x1="371.15" y1="385.3" x2="371.15" y2="386.5" stroke="#555" stroke-width="0.6" />
<text x="372.15" y="390.55600000000004" font-size="4.3" font-weight="bold" text-anchor="middle" fill="#222" >10<tspan dy="-1.4" font-size="2.8">2</tspan></text>
<line x1="391.225" y1="385.3" x2="391.225" y2="386.5" stroke="#555" stroke-width="0.6" />
<text x="392.225" y="390.55600000000004" font-size="4.3" font-weight="bold" text-anchor="middle" fill="#222" >10<tspan dy="-1.4" font-size="2.8">3</tspan></text>
<line x1="411.3" y1="385.3" x2="411.3" y2="386.5" stroke="#555" stroke-width="0.6" />
<text x="412.3" y="390.55600000000004" font-size="4.3" font-weight="bold" text-anchor="middle" fill="#222" >10<tspan dy="-1.4" font-size="2.8">4</tspan></text>
<line x1="329.5" y1="341" x2="331" y2="341" stroke="#555" stroke-width="0.6" />
<text x="329.4" y="342.72" font-size="4.3" font-weight="normal" text-anchor="end" fill="#333" >8</text>
<text x="329.4" y="386.59000000000003" font-size="4.3" font-weight="normal" text-anchor="end" fill="#333" >0</text>
<text transform="translate(328.17,366.15) rotate(-90)" font-size="4.3" font-weight="bold" text-anchor="middle" fill="#222">Events</text>
<path d="M331.5,384.9 L332.3,384.6 L333.1,384.0 L333.9,383.0 L334.7,381.6 L335.5,379.4 L336.3,376.2 L337.1,373.0 L337.9,367.4 L338.7,362.7 L339.5,358.0 L340.3,352.2 L341.1,349.8 L341.9,345.3 L342.7,346.1 L343.5,348.8 L344.3,352.0 L345.1,358.6 L345.9,365.3 L346.7,370.4 L347.5,375.9 L348.3,379.1 L349.1,381.9 L349.9,383.4 L350.7,384.3 L351.5,384.9 L352.3,385.1 L353.1,385.2" fill="none" stroke="#222" stroke-width="0.75" stroke-dasharray="1.1,0.9" stroke-linejoin="round"/>
<path d="M345.1,385.3 L345.1,385.2 L345.9,385.1 L346.7,385.1 L347.5,385.0 L348.3,384.8 L349.1,384.7 L349.9,384.5 L350.7,384.3 L351.5,384.1 L352.3,383.7 L353.1,383.3 L353.9,382.7 L354.7,382.2 L355.5,381.4 L356.3,380.4 L357.1,379.9 L357.9,378.7 L358.7,377.0 L359.5,376.4 L360.3,375.0 L361.1,372.9 L361.9,371.9 L362.7,370.0 L363.5,369.1 L364.3,367.2 L365.1,366.3 L365.9,366.8 L366.7,365.5 L367.5,366.1 L368.3,367.3 L369.1,365.4 L369.9,367.4 L370.7,367.6 L371.5,367.8 L372.3,366.7 L373.1,366.8 L373.9,367.9 L374.7,369.7 L375.5,371.1 L376.3,372.8 L377.1,373.0 L377.9,374.6 L378.7,376.3 L379.5,377.4 L380.3,378.9 L381.1,379.8 L381.9,381.1 L382.7,382.2 L383.5,382.7 L384.3,383.6 L385.1,384.0 L385.9,384.4 L386.7,384.7 L387.5,384.9 L388.3,385.0 L389.1,385.1 L389.9,385.2 L389.9,385.3 Z" fill="#949494"/>
<path d="M345.1,385.2 L345.9,385.1 L346.7,385.1 L347.5,385.0 L348.3,384.8 L349.1,384.7 L349.9,384.5 L350.7,384.3 L351.5,384.1 L352.3,383.7 L353.1,383.3 L353.9,382.7 L354.7,382.2 L355.5,381.4 L356.3,380.4 L357.1,379.9 L357.9,378.7 L358.7,377.0 L359.5,376.4 L360.3,375.0 L361.1,372.9 L361.9,371.9 L362.7,370.0 L363.5,369.1 L364.3,367.2 L365.1,366.3 L365.9,366.8 L366.7,365.5 L367.5,366.1 L368.3,367.3 L369.1,365.4 L369.9,367.4 L370.7,367.6 L371.5,367.8 L372.3,366.7 L373.1,366.8 L373.9,367.9 L374.7,369.7 L375.5,371.1 L376.3,372.8 L377.1,373.0 L377.9,374.6 L378.7,376.3 L379.5,377.4 L380.3,378.9 L381.1,379.8 L381.9,381.1 L382.7,382.2 L383.5,382.7 L384.3,383.6 L385.1,384.0 L385.9,384.4 L386.7,384.7 L387.5,384.9 L388.3,385.0 L389.1,385.1 L389.9,385.2" fill="none" stroke="#2a2a2a" stroke-width="0.7"  stroke-linejoin="round"/>
<line x1="431.3" y1="341" x2="431.3" y2="386.3" stroke="#666" stroke-width="0.7" />
<line x1="430.3" y1="385.8" x2="511.5" y2="385.8" stroke="#555" stroke-width="0.7" />
<line x1="431.3" y1="385.8" x2="431.3" y2="387.0" stroke="#555" stroke-width="0.6" />
<text x="432.3" y="391.05600000000004" font-size="4.3" font-weight="bold" text-anchor="middle" fill="#222" >10<tspan dy="-1.4" font-size="2.8">0</tspan></text>
<line x1="451.35" y1="385.8" x2="451.35" y2="387.0" stroke="#555" stroke-width="0.6" />
<text x="452.35" y="391.05600000000004" font-size="4.3" font-weight="bold" text-anchor="middle" fill="#222" >10<tspan dy="-1.4" font-size="2.8">1</tspan></text>
<line x1="471.4" y1="385.8" x2="471.4" y2="387.0" stroke="#555" stroke-width="0.6" />
<text x="472.4" y="391.05600000000004" font-size="4.3" font-weight="bold" text-anchor="middle" fill="#222" >10<tspan dy="-1.4" font-size="2.8">2</tspan></text>
<line x1="491.45" y1="385.8" x2="491.45" y2="387.0" stroke="#555" stroke-width="0.6" />
<text x="492.45" y="391.05600000000004" font-size="4.3" font-weight="bold" text-anchor="middle" fill="#222" >10<tspan dy="-1.4" font-size="2.8">3</tspan></text>
<line x1="511.5" y1="385.8" x2="511.5" y2="387.0" stroke="#555" stroke-width="0.6" />
<text x="512.5" y="391.05600000000004" font-size="4.3" font-weight="bold" text-anchor="middle" fill="#222" >10<tspan dy="-1.4" font-size="2.8">4</tspan></text>
<line x1="429.8" y1="341" x2="431.3" y2="341" stroke="#555" stroke-width="0.6" />
<text x="429.7" y="342.72" font-size="4.3" font-weight="normal" text-anchor="end" fill="#333" >8</text>
<text x="429.7" y="387.09000000000003" font-size="4.3" font-weight="normal" text-anchor="end" fill="#333" >0</text>
<text transform="translate(428.47,366.4) rotate(-90)" font-size="4.3" font-weight="bold" text-anchor="middle" fill="#222">Events</text>
<path d="M432.6,385.7 L433.4,385.6 L434.2,385.4 L435.0,385.2 L435.8,384.7 L436.6,384.2 L437.4,383.1 L438.2,381.6 L439.0,380.2 L439.8,377.9 L440.6,374.8 L441.4,371.6 L442.2,367.7 L443.0,363.5 L443.8,361.4 L444.6,358.0 L445.4,355.7 L446.2,355.1 L447.0,352.1 L447.8,354.4 L448.6,358.8 L449.4,365.7 L450.2,369.7 L451.0,375.0 L451.8,379.2 L452.6,381.9 L453.4,383.8 L454.2,384.8 L455.0,385.4 L455.8,385.6 L456.6,385.7" fill="none" stroke="#222" stroke-width="0.75" stroke-dasharray="1.1,0.9" stroke-linejoin="round"/>
<path d="M450.2,385.8 L450.2,385.7 L451.0,385.7 L451.8,385.6 L452.6,385.6 L453.4,385.5 L454.2,385.4 L455.0,385.3 L455.8,385.3 L456.6,385.1 L457.4,385.0 L458.2,384.7 L459.0,384.4 L459.8,384.2 L460.6,383.9 L461.4,383.6 L462.2,383.5 L463.0,383.0 L463.8,382.8 L464.6,382.2 L465.4,382.0 L466.2,381.8 L467.0,381.1 L467.8,380.3 L468.6,380.6 L469.4,379.3 L470.2,379.8 L471.0,378.9 L471.8,378.3 L472.6,376.6 L473.4,375.3 L474.2,374.7 L475.0,374.6 L475.8,372.2 L476.6,372.6 L477.4,371.9 L478.2,368.9 L479.0,369.0 L479.8,368.1 L480.6,367.8 L481.4,366.6 L482.2,368.5 L483.0,367.7 L483.8,369.1 L484.6,369.7 L485.4,372.2 L486.2,373.0 L487.0,374.9 L487.8,376.9 L488.6,378.5 L489.4,379.3 L490.2,381.1 L491.0,381.5 L491.8,383.0 L492.6,383.7 L493.4,384.2 L494.2,384.5 L495.0,385.0 L495.8,385.3 L496.6,385.4 L497.4,385.5 L498.2,385.6 L499.0,385.7 L499.0,385.8 Z" fill="#949494"/>
<path d="M450.2,385.7 L451.0,385.7 L451.8,385.6 L452.6,385.6 L453.4,385.5 L454.2,385.4 L455.0,385.3 L455.8,385.3 L456.6,385.1 L457.4,385.0 L458.2,384.7 L459.0,384.4 L459.8,384.2 L460.6,383.9 L461.4,383.6 L462.2,383.5 L463.0,383.0 L463.8,382.8 L464.6,382.2 L465.4,382.0 L466.2,381.8 L467.0,381.1 L467.8,380.3 L468.6,380.6 L469.4,379.3 L470.2,379.8 L471.0,378.9 L471.8,378.3 L472.6,376.6 L473.4,375.3 L474.2,374.7 L475.0,374.6 L475.8,372.2 L476.6,372.6 L477.4,371.9 L478.2,368.9 L479.0,369.0 L479.8,368.1 L480.6,367.8 L481.4,366.6 L482.2,368.5 L483.0,367.7 L483.8,369.1 L484.6,369.7 L485.4,372.2 L486.2,373.0 L487.0,374.9 L487.8,376.9 L488.6,378.5 L489.4,379.3 L490.2,381.1 L491.0,381.5 L491.8,383.0 L492.6,383.7 L493.4,384.2 L494.2,384.5 L495.0,385.0 L495.8,385.3 L496.6,385.4 L497.4,385.5 L498.2,385.6 L499.0,385.7" fill="none" stroke="#2a2a2a" stroke-width="0.7"  stroke-linejoin="round"/>
<line x1="328.5" y1="397.7" x2="497.8" y2="397.7" stroke="#000" stroke-width="2.2" />
<path d="M504.2,397.7 L496.8,394.09999999999997 L496.8,401.3 Z" fill="#000"/>
<text x="419" y="414.5" font-size="11" font-weight="bold" text-anchor="middle" fill="#000" >CD40</text>
<text x="271" y="436.5" font-size="11" font-weight="bold" text-anchor="start" fill="#000" >D</text>
<text x="345" y="436.5" font-size="12" font-weight="bold" text-anchor="start" fill="#000" >TNF-<tspan font-weight="normal" font-size="13">α</tspan></text>
<text x="456" y="436.5" font-size="12" font-weight="bold" text-anchor="start" fill="#000" >IL-6</text>
<line x1="307" y1="449" x2="307" y2="577.2" stroke="#000" stroke-width="1.05" />
<line x1="306" y1="576.7" x2="520" y2="576.7" stroke="#000" stroke-width="1.05" />
<line x1="519.5" y1="576.7" x2="519.5" y2="579.2" stroke="#000" stroke-width="1" />
<line x1="304" y1="576.7" x2="307" y2="576.7" stroke="#000" stroke-width="1" />
<text x="300" y="579.6" font-size="8.5" font-weight="bold" text-anchor="end" fill="#000" >0</text>
<line x1="304" y1="555.45" x2="307" y2="555.45" stroke="#000" stroke-width="1" />
<text x="300" y="558.35" font-size="8.5" font-weight="bold" text-anchor="end" fill="#000" >20</text>
<line x1="304" y1="534.2" x2="307" y2="534.2" stroke="#000" stroke-width="1" />
<text x="300" y="537.1" font-size="8.5" font-weight="bold" text-anchor="end" fill="#000" >40</text>
<line x1="304" y1="512.95" x2="307" y2="512.95" stroke="#000" stroke-width="1" />
<text x="300" y="515.85" font-size="8.5" font-weight="bold" text-anchor="end" fill="#000" >60</text>
<line x1="304" y1="491.70000000000005" x2="307" y2="491.70000000000005" stroke="#000" stroke-width="1" />
<text x="300" y="494.6" font-size="8.5" font-weight="bold" text-anchor="end" fill="#000" >80</text>
<line x1="304" y1="470.45000000000005" x2="307" y2="470.45000000000005" stroke="#000" stroke-width="1" />
<text x="300" y="473.35" font-size="8.5" font-weight="bold" text-anchor="end" fill="#000" >100</text>
<line x1="304" y1="449.20000000000005" x2="307" y2="449.20000000000005" stroke="#000" stroke-width="1" />
<text x="300" y="452.1" font-size="8.5" font-weight="bold" text-anchor="end" fill="#000" >120</text>
<text transform="translate(280,509.3) rotate(-90)" font-size="10.6" font-weight="bold" text-anchor="middle" fill="#000">% cytokine production</text>
<rect x="330.6" y="470.45000000000005" width="34" height="106.25" fill="#000" stroke="none" stroke-width="1"/>
<rect x="364.5" y="500.20000000000005" width="33" height="76.5" fill="#fff" stroke="#000" stroke-width="1.1"/>
<line x1="380.8" y1="494.5" x2="380.8" y2="506" stroke="#000" stroke-width="1.2" />
<line x1="378.5" y1="494.5" x2="383.1" y2="494.5" stroke="#000" stroke-width="1.2" />
<line x1="378.5" y1="506" x2="383.1" y2="506" stroke="#000" stroke-width="1.2" />
<rect x="428.6" y="470.87500000000006" width="34" height="105.82499999999999" fill="#000" stroke="none" stroke-width="1"/>
<rect x="462.5" y="468.75000000000006" width="32" height="107.94999999999999" fill="#fff" stroke="#000" stroke-width="1.1"/>
<line x1="478" y1="459.5" x2="478" y2="477.5" stroke="#000" stroke-width="1.2" />
<line x1="475.7" y1="459.5" x2="480.3" y2="459.5" stroke="#000" stroke-width="1.2" />
<line x1="475.7" y1="477.5" x2="480.3" y2="477.5" stroke="#000" stroke-width="1.2" />
<path d="M348,463.5 Q348,458.5 350.5,458.5 L381.5,458.5 Q384,458.5 384,463.5" fill="none" stroke="#000" stroke-width="1.25"/>
<polygon points="367.50,449.10 368.46,451.67 371.21,451.79 369.06,453.51 369.79,456.16 367.50,454.64 365.21,456.16 365.94,453.51 363.79,451.79 366.54,451.67" fill="#000"/>
<text x="345" y="592.3" font-size="8.6" font-weight="bold" text-anchor="middle" fill="#000" >mIgG1</text>
<text x="385.1" y="591.2" font-size="8.6" font-weight="bold" text-anchor="middle" fill="#000" >Anti-DCIR</text>
<text x="443.5" y="592.2" font-size="8.6" font-weight="bold" text-anchor="middle" fill="#000" >mIgG1</text>
<text x="484.2" y="592.2" font-size="8.6" font-weight="bold" text-anchor="middle" fill="#000" >Anti-DCIR</text>
</g>
</svg>
</body></html>
